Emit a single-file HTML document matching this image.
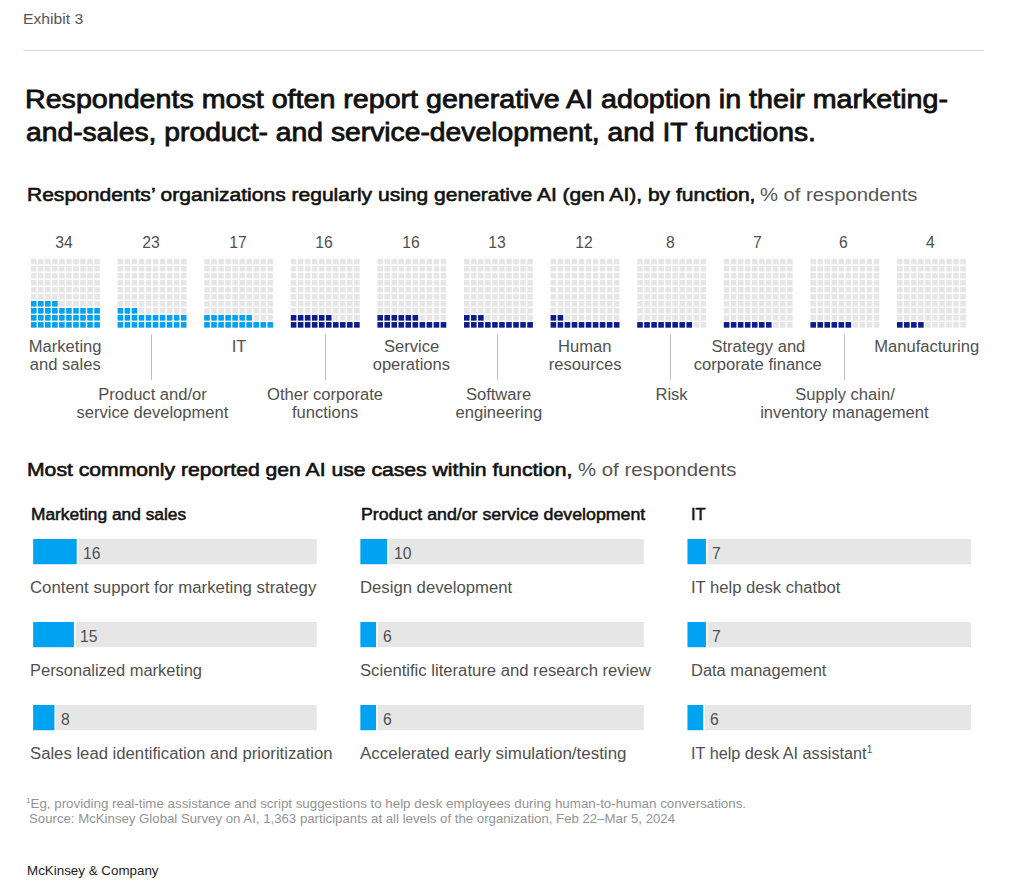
<!DOCTYPE html>
<html><head><meta charset="utf-8"><title>Exhibit 3</title>
<style>
html,body{margin:0;padding:0;background:#fff;width:1024px;height:896px;overflow:hidden;position:relative;font-family:'Liberation Sans', sans-serif;}
.sup{font-size:10px;position:relative;top:-6px;vertical-align:baseline;line-height:0}
</style></head><body>
<svg width="1024" height="896" style="position:absolute;left:0;top:0">
<line x1="23.5" y1="50.5" x2="984" y2="50.5" stroke="#d4d4d4" stroke-width="1.2"/>
<rect x="31.00" y="322.07" width="5.6" height="5.6" fill="#00a1f1"/>
<rect x="38.03" y="322.07" width="5.6" height="5.6" fill="#00a1f1"/>
<rect x="45.06" y="322.07" width="5.6" height="5.6" fill="#00a1f1"/>
<rect x="52.09" y="322.07" width="5.6" height="5.6" fill="#00a1f1"/>
<rect x="59.12" y="322.07" width="5.6" height="5.6" fill="#00a1f1"/>
<rect x="66.15" y="322.07" width="5.6" height="5.6" fill="#00a1f1"/>
<rect x="73.18" y="322.07" width="5.6" height="5.6" fill="#00a1f1"/>
<rect x="80.21" y="322.07" width="5.6" height="5.6" fill="#00a1f1"/>
<rect x="87.24" y="322.07" width="5.6" height="5.6" fill="#00a1f1"/>
<rect x="94.27" y="322.07" width="5.6" height="5.6" fill="#00a1f1"/>
<rect x="31.00" y="315.04" width="5.6" height="5.6" fill="#00a1f1"/>
<rect x="38.03" y="315.04" width="5.6" height="5.6" fill="#00a1f1"/>
<rect x="45.06" y="315.04" width="5.6" height="5.6" fill="#00a1f1"/>
<rect x="52.09" y="315.04" width="5.6" height="5.6" fill="#00a1f1"/>
<rect x="59.12" y="315.04" width="5.6" height="5.6" fill="#00a1f1"/>
<rect x="66.15" y="315.04" width="5.6" height="5.6" fill="#00a1f1"/>
<rect x="73.18" y="315.04" width="5.6" height="5.6" fill="#00a1f1"/>
<rect x="80.21" y="315.04" width="5.6" height="5.6" fill="#00a1f1"/>
<rect x="87.24" y="315.04" width="5.6" height="5.6" fill="#00a1f1"/>
<rect x="94.27" y="315.04" width="5.6" height="5.6" fill="#00a1f1"/>
<rect x="31.00" y="308.01" width="5.6" height="5.6" fill="#00a1f1"/>
<rect x="38.03" y="308.01" width="5.6" height="5.6" fill="#00a1f1"/>
<rect x="45.06" y="308.01" width="5.6" height="5.6" fill="#00a1f1"/>
<rect x="52.09" y="308.01" width="5.6" height="5.6" fill="#00a1f1"/>
<rect x="59.12" y="308.01" width="5.6" height="5.6" fill="#00a1f1"/>
<rect x="66.15" y="308.01" width="5.6" height="5.6" fill="#00a1f1"/>
<rect x="73.18" y="308.01" width="5.6" height="5.6" fill="#00a1f1"/>
<rect x="80.21" y="308.01" width="5.6" height="5.6" fill="#00a1f1"/>
<rect x="87.24" y="308.01" width="5.6" height="5.6" fill="#00a1f1"/>
<rect x="94.27" y="308.01" width="5.6" height="5.6" fill="#00a1f1"/>
<rect x="31.00" y="300.98" width="5.6" height="5.6" fill="#00a1f1"/>
<rect x="38.03" y="300.98" width="5.6" height="5.6" fill="#00a1f1"/>
<rect x="45.06" y="300.98" width="5.6" height="5.6" fill="#00a1f1"/>
<rect x="52.09" y="300.98" width="5.6" height="5.6" fill="#00a1f1"/>
<rect x="59.12" y="300.98" width="5.6" height="5.6" fill="#e6e6e6"/>
<rect x="66.15" y="300.98" width="5.6" height="5.6" fill="#e6e6e6"/>
<rect x="73.18" y="300.98" width="5.6" height="5.6" fill="#e6e6e6"/>
<rect x="80.21" y="300.98" width="5.6" height="5.6" fill="#e6e6e6"/>
<rect x="87.24" y="300.98" width="5.6" height="5.6" fill="#e6e6e6"/>
<rect x="94.27" y="300.98" width="5.6" height="5.6" fill="#e6e6e6"/>
<rect x="31.00" y="293.95" width="5.6" height="5.6" fill="#e6e6e6"/>
<rect x="38.03" y="293.95" width="5.6" height="5.6" fill="#e6e6e6"/>
<rect x="45.06" y="293.95" width="5.6" height="5.6" fill="#e6e6e6"/>
<rect x="52.09" y="293.95" width="5.6" height="5.6" fill="#e6e6e6"/>
<rect x="59.12" y="293.95" width="5.6" height="5.6" fill="#e6e6e6"/>
<rect x="66.15" y="293.95" width="5.6" height="5.6" fill="#e6e6e6"/>
<rect x="73.18" y="293.95" width="5.6" height="5.6" fill="#e6e6e6"/>
<rect x="80.21" y="293.95" width="5.6" height="5.6" fill="#e6e6e6"/>
<rect x="87.24" y="293.95" width="5.6" height="5.6" fill="#e6e6e6"/>
<rect x="94.27" y="293.95" width="5.6" height="5.6" fill="#e6e6e6"/>
<rect x="31.00" y="286.92" width="5.6" height="5.6" fill="#e6e6e6"/>
<rect x="38.03" y="286.92" width="5.6" height="5.6" fill="#e6e6e6"/>
<rect x="45.06" y="286.92" width="5.6" height="5.6" fill="#e6e6e6"/>
<rect x="52.09" y="286.92" width="5.6" height="5.6" fill="#e6e6e6"/>
<rect x="59.12" y="286.92" width="5.6" height="5.6" fill="#e6e6e6"/>
<rect x="66.15" y="286.92" width="5.6" height="5.6" fill="#e6e6e6"/>
<rect x="73.18" y="286.92" width="5.6" height="5.6" fill="#e6e6e6"/>
<rect x="80.21" y="286.92" width="5.6" height="5.6" fill="#e6e6e6"/>
<rect x="87.24" y="286.92" width="5.6" height="5.6" fill="#e6e6e6"/>
<rect x="94.27" y="286.92" width="5.6" height="5.6" fill="#e6e6e6"/>
<rect x="31.00" y="279.89" width="5.6" height="5.6" fill="#e6e6e6"/>
<rect x="38.03" y="279.89" width="5.6" height="5.6" fill="#e6e6e6"/>
<rect x="45.06" y="279.89" width="5.6" height="5.6" fill="#e6e6e6"/>
<rect x="52.09" y="279.89" width="5.6" height="5.6" fill="#e6e6e6"/>
<rect x="59.12" y="279.89" width="5.6" height="5.6" fill="#e6e6e6"/>
<rect x="66.15" y="279.89" width="5.6" height="5.6" fill="#e6e6e6"/>
<rect x="73.18" y="279.89" width="5.6" height="5.6" fill="#e6e6e6"/>
<rect x="80.21" y="279.89" width="5.6" height="5.6" fill="#e6e6e6"/>
<rect x="87.24" y="279.89" width="5.6" height="5.6" fill="#e6e6e6"/>
<rect x="94.27" y="279.89" width="5.6" height="5.6" fill="#e6e6e6"/>
<rect x="31.00" y="272.86" width="5.6" height="5.6" fill="#e6e6e6"/>
<rect x="38.03" y="272.86" width="5.6" height="5.6" fill="#e6e6e6"/>
<rect x="45.06" y="272.86" width="5.6" height="5.6" fill="#e6e6e6"/>
<rect x="52.09" y="272.86" width="5.6" height="5.6" fill="#e6e6e6"/>
<rect x="59.12" y="272.86" width="5.6" height="5.6" fill="#e6e6e6"/>
<rect x="66.15" y="272.86" width="5.6" height="5.6" fill="#e6e6e6"/>
<rect x="73.18" y="272.86" width="5.6" height="5.6" fill="#e6e6e6"/>
<rect x="80.21" y="272.86" width="5.6" height="5.6" fill="#e6e6e6"/>
<rect x="87.24" y="272.86" width="5.6" height="5.6" fill="#e6e6e6"/>
<rect x="94.27" y="272.86" width="5.6" height="5.6" fill="#e6e6e6"/>
<rect x="31.00" y="265.83" width="5.6" height="5.6" fill="#e6e6e6"/>
<rect x="38.03" y="265.83" width="5.6" height="5.6" fill="#e6e6e6"/>
<rect x="45.06" y="265.83" width="5.6" height="5.6" fill="#e6e6e6"/>
<rect x="52.09" y="265.83" width="5.6" height="5.6" fill="#e6e6e6"/>
<rect x="59.12" y="265.83" width="5.6" height="5.6" fill="#e6e6e6"/>
<rect x="66.15" y="265.83" width="5.6" height="5.6" fill="#e6e6e6"/>
<rect x="73.18" y="265.83" width="5.6" height="5.6" fill="#e6e6e6"/>
<rect x="80.21" y="265.83" width="5.6" height="5.6" fill="#e6e6e6"/>
<rect x="87.24" y="265.83" width="5.6" height="5.6" fill="#e6e6e6"/>
<rect x="94.27" y="265.83" width="5.6" height="5.6" fill="#e6e6e6"/>
<rect x="31.00" y="258.80" width="5.6" height="5.6" fill="#e6e6e6"/>
<rect x="38.03" y="258.80" width="5.6" height="5.6" fill="#e6e6e6"/>
<rect x="45.06" y="258.80" width="5.6" height="5.6" fill="#e6e6e6"/>
<rect x="52.09" y="258.80" width="5.6" height="5.6" fill="#e6e6e6"/>
<rect x="59.12" y="258.80" width="5.6" height="5.6" fill="#e6e6e6"/>
<rect x="66.15" y="258.80" width="5.6" height="5.6" fill="#e6e6e6"/>
<rect x="73.18" y="258.80" width="5.6" height="5.6" fill="#e6e6e6"/>
<rect x="80.21" y="258.80" width="5.6" height="5.6" fill="#e6e6e6"/>
<rect x="87.24" y="258.80" width="5.6" height="5.6" fill="#e6e6e6"/>
<rect x="94.27" y="258.80" width="5.6" height="5.6" fill="#e6e6e6"/>
<rect x="117.60" y="322.07" width="5.6" height="5.6" fill="#00a1f1"/>
<rect x="124.63" y="322.07" width="5.6" height="5.6" fill="#00a1f1"/>
<rect x="131.66" y="322.07" width="5.6" height="5.6" fill="#00a1f1"/>
<rect x="138.69" y="322.07" width="5.6" height="5.6" fill="#00a1f1"/>
<rect x="145.72" y="322.07" width="5.6" height="5.6" fill="#00a1f1"/>
<rect x="152.75" y="322.07" width="5.6" height="5.6" fill="#00a1f1"/>
<rect x="159.78" y="322.07" width="5.6" height="5.6" fill="#00a1f1"/>
<rect x="166.81" y="322.07" width="5.6" height="5.6" fill="#00a1f1"/>
<rect x="173.84" y="322.07" width="5.6" height="5.6" fill="#00a1f1"/>
<rect x="180.87" y="322.07" width="5.6" height="5.6" fill="#00a1f1"/>
<rect x="117.60" y="315.04" width="5.6" height="5.6" fill="#00a1f1"/>
<rect x="124.63" y="315.04" width="5.6" height="5.6" fill="#00a1f1"/>
<rect x="131.66" y="315.04" width="5.6" height="5.6" fill="#00a1f1"/>
<rect x="138.69" y="315.04" width="5.6" height="5.6" fill="#00a1f1"/>
<rect x="145.72" y="315.04" width="5.6" height="5.6" fill="#00a1f1"/>
<rect x="152.75" y="315.04" width="5.6" height="5.6" fill="#00a1f1"/>
<rect x="159.78" y="315.04" width="5.6" height="5.6" fill="#00a1f1"/>
<rect x="166.81" y="315.04" width="5.6" height="5.6" fill="#00a1f1"/>
<rect x="173.84" y="315.04" width="5.6" height="5.6" fill="#00a1f1"/>
<rect x="180.87" y="315.04" width="5.6" height="5.6" fill="#00a1f1"/>
<rect x="117.60" y="308.01" width="5.6" height="5.6" fill="#00a1f1"/>
<rect x="124.63" y="308.01" width="5.6" height="5.6" fill="#00a1f1"/>
<rect x="131.66" y="308.01" width="5.6" height="5.6" fill="#00a1f1"/>
<rect x="138.69" y="308.01" width="5.6" height="5.6" fill="#e6e6e6"/>
<rect x="145.72" y="308.01" width="5.6" height="5.6" fill="#e6e6e6"/>
<rect x="152.75" y="308.01" width="5.6" height="5.6" fill="#e6e6e6"/>
<rect x="159.78" y="308.01" width="5.6" height="5.6" fill="#e6e6e6"/>
<rect x="166.81" y="308.01" width="5.6" height="5.6" fill="#e6e6e6"/>
<rect x="173.84" y="308.01" width="5.6" height="5.6" fill="#e6e6e6"/>
<rect x="180.87" y="308.01" width="5.6" height="5.6" fill="#e6e6e6"/>
<rect x="117.60" y="300.98" width="5.6" height="5.6" fill="#e6e6e6"/>
<rect x="124.63" y="300.98" width="5.6" height="5.6" fill="#e6e6e6"/>
<rect x="131.66" y="300.98" width="5.6" height="5.6" fill="#e6e6e6"/>
<rect x="138.69" y="300.98" width="5.6" height="5.6" fill="#e6e6e6"/>
<rect x="145.72" y="300.98" width="5.6" height="5.6" fill="#e6e6e6"/>
<rect x="152.75" y="300.98" width="5.6" height="5.6" fill="#e6e6e6"/>
<rect x="159.78" y="300.98" width="5.6" height="5.6" fill="#e6e6e6"/>
<rect x="166.81" y="300.98" width="5.6" height="5.6" fill="#e6e6e6"/>
<rect x="173.84" y="300.98" width="5.6" height="5.6" fill="#e6e6e6"/>
<rect x="180.87" y="300.98" width="5.6" height="5.6" fill="#e6e6e6"/>
<rect x="117.60" y="293.95" width="5.6" height="5.6" fill="#e6e6e6"/>
<rect x="124.63" y="293.95" width="5.6" height="5.6" fill="#e6e6e6"/>
<rect x="131.66" y="293.95" width="5.6" height="5.6" fill="#e6e6e6"/>
<rect x="138.69" y="293.95" width="5.6" height="5.6" fill="#e6e6e6"/>
<rect x="145.72" y="293.95" width="5.6" height="5.6" fill="#e6e6e6"/>
<rect x="152.75" y="293.95" width="5.6" height="5.6" fill="#e6e6e6"/>
<rect x="159.78" y="293.95" width="5.6" height="5.6" fill="#e6e6e6"/>
<rect x="166.81" y="293.95" width="5.6" height="5.6" fill="#e6e6e6"/>
<rect x="173.84" y="293.95" width="5.6" height="5.6" fill="#e6e6e6"/>
<rect x="180.87" y="293.95" width="5.6" height="5.6" fill="#e6e6e6"/>
<rect x="117.60" y="286.92" width="5.6" height="5.6" fill="#e6e6e6"/>
<rect x="124.63" y="286.92" width="5.6" height="5.6" fill="#e6e6e6"/>
<rect x="131.66" y="286.92" width="5.6" height="5.6" fill="#e6e6e6"/>
<rect x="138.69" y="286.92" width="5.6" height="5.6" fill="#e6e6e6"/>
<rect x="145.72" y="286.92" width="5.6" height="5.6" fill="#e6e6e6"/>
<rect x="152.75" y="286.92" width="5.6" height="5.6" fill="#e6e6e6"/>
<rect x="159.78" y="286.92" width="5.6" height="5.6" fill="#e6e6e6"/>
<rect x="166.81" y="286.92" width="5.6" height="5.6" fill="#e6e6e6"/>
<rect x="173.84" y="286.92" width="5.6" height="5.6" fill="#e6e6e6"/>
<rect x="180.87" y="286.92" width="5.6" height="5.6" fill="#e6e6e6"/>
<rect x="117.60" y="279.89" width="5.6" height="5.6" fill="#e6e6e6"/>
<rect x="124.63" y="279.89" width="5.6" height="5.6" fill="#e6e6e6"/>
<rect x="131.66" y="279.89" width="5.6" height="5.6" fill="#e6e6e6"/>
<rect x="138.69" y="279.89" width="5.6" height="5.6" fill="#e6e6e6"/>
<rect x="145.72" y="279.89" width="5.6" height="5.6" fill="#e6e6e6"/>
<rect x="152.75" y="279.89" width="5.6" height="5.6" fill="#e6e6e6"/>
<rect x="159.78" y="279.89" width="5.6" height="5.6" fill="#e6e6e6"/>
<rect x="166.81" y="279.89" width="5.6" height="5.6" fill="#e6e6e6"/>
<rect x="173.84" y="279.89" width="5.6" height="5.6" fill="#e6e6e6"/>
<rect x="180.87" y="279.89" width="5.6" height="5.6" fill="#e6e6e6"/>
<rect x="117.60" y="272.86" width="5.6" height="5.6" fill="#e6e6e6"/>
<rect x="124.63" y="272.86" width="5.6" height="5.6" fill="#e6e6e6"/>
<rect x="131.66" y="272.86" width="5.6" height="5.6" fill="#e6e6e6"/>
<rect x="138.69" y="272.86" width="5.6" height="5.6" fill="#e6e6e6"/>
<rect x="145.72" y="272.86" width="5.6" height="5.6" fill="#e6e6e6"/>
<rect x="152.75" y="272.86" width="5.6" height="5.6" fill="#e6e6e6"/>
<rect x="159.78" y="272.86" width="5.6" height="5.6" fill="#e6e6e6"/>
<rect x="166.81" y="272.86" width="5.6" height="5.6" fill="#e6e6e6"/>
<rect x="173.84" y="272.86" width="5.6" height="5.6" fill="#e6e6e6"/>
<rect x="180.87" y="272.86" width="5.6" height="5.6" fill="#e6e6e6"/>
<rect x="117.60" y="265.83" width="5.6" height="5.6" fill="#e6e6e6"/>
<rect x="124.63" y="265.83" width="5.6" height="5.6" fill="#e6e6e6"/>
<rect x="131.66" y="265.83" width="5.6" height="5.6" fill="#e6e6e6"/>
<rect x="138.69" y="265.83" width="5.6" height="5.6" fill="#e6e6e6"/>
<rect x="145.72" y="265.83" width="5.6" height="5.6" fill="#e6e6e6"/>
<rect x="152.75" y="265.83" width="5.6" height="5.6" fill="#e6e6e6"/>
<rect x="159.78" y="265.83" width="5.6" height="5.6" fill="#e6e6e6"/>
<rect x="166.81" y="265.83" width="5.6" height="5.6" fill="#e6e6e6"/>
<rect x="173.84" y="265.83" width="5.6" height="5.6" fill="#e6e6e6"/>
<rect x="180.87" y="265.83" width="5.6" height="5.6" fill="#e6e6e6"/>
<rect x="117.60" y="258.80" width="5.6" height="5.6" fill="#e6e6e6"/>
<rect x="124.63" y="258.80" width="5.6" height="5.6" fill="#e6e6e6"/>
<rect x="131.66" y="258.80" width="5.6" height="5.6" fill="#e6e6e6"/>
<rect x="138.69" y="258.80" width="5.6" height="5.6" fill="#e6e6e6"/>
<rect x="145.72" y="258.80" width="5.6" height="5.6" fill="#e6e6e6"/>
<rect x="152.75" y="258.80" width="5.6" height="5.6" fill="#e6e6e6"/>
<rect x="159.78" y="258.80" width="5.6" height="5.6" fill="#e6e6e6"/>
<rect x="166.81" y="258.80" width="5.6" height="5.6" fill="#e6e6e6"/>
<rect x="173.84" y="258.80" width="5.6" height="5.6" fill="#e6e6e6"/>
<rect x="180.87" y="258.80" width="5.6" height="5.6" fill="#e6e6e6"/>
<rect x="204.20" y="322.07" width="5.6" height="5.6" fill="#00a1f1"/>
<rect x="211.23" y="322.07" width="5.6" height="5.6" fill="#00a1f1"/>
<rect x="218.26" y="322.07" width="5.6" height="5.6" fill="#00a1f1"/>
<rect x="225.29" y="322.07" width="5.6" height="5.6" fill="#00a1f1"/>
<rect x="232.32" y="322.07" width="5.6" height="5.6" fill="#00a1f1"/>
<rect x="239.35" y="322.07" width="5.6" height="5.6" fill="#00a1f1"/>
<rect x="246.38" y="322.07" width="5.6" height="5.6" fill="#00a1f1"/>
<rect x="253.41" y="322.07" width="5.6" height="5.6" fill="#00a1f1"/>
<rect x="260.44" y="322.07" width="5.6" height="5.6" fill="#00a1f1"/>
<rect x="267.47" y="322.07" width="5.6" height="5.6" fill="#00a1f1"/>
<rect x="204.20" y="315.04" width="5.6" height="5.6" fill="#00a1f1"/>
<rect x="211.23" y="315.04" width="5.6" height="5.6" fill="#00a1f1"/>
<rect x="218.26" y="315.04" width="5.6" height="5.6" fill="#00a1f1"/>
<rect x="225.29" y="315.04" width="5.6" height="5.6" fill="#00a1f1"/>
<rect x="232.32" y="315.04" width="5.6" height="5.6" fill="#00a1f1"/>
<rect x="239.35" y="315.04" width="5.6" height="5.6" fill="#00a1f1"/>
<rect x="246.38" y="315.04" width="5.6" height="5.6" fill="#00a1f1"/>
<rect x="253.41" y="315.04" width="5.6" height="5.6" fill="#e6e6e6"/>
<rect x="260.44" y="315.04" width="5.6" height="5.6" fill="#e6e6e6"/>
<rect x="267.47" y="315.04" width="5.6" height="5.6" fill="#e6e6e6"/>
<rect x="204.20" y="308.01" width="5.6" height="5.6" fill="#e6e6e6"/>
<rect x="211.23" y="308.01" width="5.6" height="5.6" fill="#e6e6e6"/>
<rect x="218.26" y="308.01" width="5.6" height="5.6" fill="#e6e6e6"/>
<rect x="225.29" y="308.01" width="5.6" height="5.6" fill="#e6e6e6"/>
<rect x="232.32" y="308.01" width="5.6" height="5.6" fill="#e6e6e6"/>
<rect x="239.35" y="308.01" width="5.6" height="5.6" fill="#e6e6e6"/>
<rect x="246.38" y="308.01" width="5.6" height="5.6" fill="#e6e6e6"/>
<rect x="253.41" y="308.01" width="5.6" height="5.6" fill="#e6e6e6"/>
<rect x="260.44" y="308.01" width="5.6" height="5.6" fill="#e6e6e6"/>
<rect x="267.47" y="308.01" width="5.6" height="5.6" fill="#e6e6e6"/>
<rect x="204.20" y="300.98" width="5.6" height="5.6" fill="#e6e6e6"/>
<rect x="211.23" y="300.98" width="5.6" height="5.6" fill="#e6e6e6"/>
<rect x="218.26" y="300.98" width="5.6" height="5.6" fill="#e6e6e6"/>
<rect x="225.29" y="300.98" width="5.6" height="5.6" fill="#e6e6e6"/>
<rect x="232.32" y="300.98" width="5.6" height="5.6" fill="#e6e6e6"/>
<rect x="239.35" y="300.98" width="5.6" height="5.6" fill="#e6e6e6"/>
<rect x="246.38" y="300.98" width="5.6" height="5.6" fill="#e6e6e6"/>
<rect x="253.41" y="300.98" width="5.6" height="5.6" fill="#e6e6e6"/>
<rect x="260.44" y="300.98" width="5.6" height="5.6" fill="#e6e6e6"/>
<rect x="267.47" y="300.98" width="5.6" height="5.6" fill="#e6e6e6"/>
<rect x="204.20" y="293.95" width="5.6" height="5.6" fill="#e6e6e6"/>
<rect x="211.23" y="293.95" width="5.6" height="5.6" fill="#e6e6e6"/>
<rect x="218.26" y="293.95" width="5.6" height="5.6" fill="#e6e6e6"/>
<rect x="225.29" y="293.95" width="5.6" height="5.6" fill="#e6e6e6"/>
<rect x="232.32" y="293.95" width="5.6" height="5.6" fill="#e6e6e6"/>
<rect x="239.35" y="293.95" width="5.6" height="5.6" fill="#e6e6e6"/>
<rect x="246.38" y="293.95" width="5.6" height="5.6" fill="#e6e6e6"/>
<rect x="253.41" y="293.95" width="5.6" height="5.6" fill="#e6e6e6"/>
<rect x="260.44" y="293.95" width="5.6" height="5.6" fill="#e6e6e6"/>
<rect x="267.47" y="293.95" width="5.6" height="5.6" fill="#e6e6e6"/>
<rect x="204.20" y="286.92" width="5.6" height="5.6" fill="#e6e6e6"/>
<rect x="211.23" y="286.92" width="5.6" height="5.6" fill="#e6e6e6"/>
<rect x="218.26" y="286.92" width="5.6" height="5.6" fill="#e6e6e6"/>
<rect x="225.29" y="286.92" width="5.6" height="5.6" fill="#e6e6e6"/>
<rect x="232.32" y="286.92" width="5.6" height="5.6" fill="#e6e6e6"/>
<rect x="239.35" y="286.92" width="5.6" height="5.6" fill="#e6e6e6"/>
<rect x="246.38" y="286.92" width="5.6" height="5.6" fill="#e6e6e6"/>
<rect x="253.41" y="286.92" width="5.6" height="5.6" fill="#e6e6e6"/>
<rect x="260.44" y="286.92" width="5.6" height="5.6" fill="#e6e6e6"/>
<rect x="267.47" y="286.92" width="5.6" height="5.6" fill="#e6e6e6"/>
<rect x="204.20" y="279.89" width="5.6" height="5.6" fill="#e6e6e6"/>
<rect x="211.23" y="279.89" width="5.6" height="5.6" fill="#e6e6e6"/>
<rect x="218.26" y="279.89" width="5.6" height="5.6" fill="#e6e6e6"/>
<rect x="225.29" y="279.89" width="5.6" height="5.6" fill="#e6e6e6"/>
<rect x="232.32" y="279.89" width="5.6" height="5.6" fill="#e6e6e6"/>
<rect x="239.35" y="279.89" width="5.6" height="5.6" fill="#e6e6e6"/>
<rect x="246.38" y="279.89" width="5.6" height="5.6" fill="#e6e6e6"/>
<rect x="253.41" y="279.89" width="5.6" height="5.6" fill="#e6e6e6"/>
<rect x="260.44" y="279.89" width="5.6" height="5.6" fill="#e6e6e6"/>
<rect x="267.47" y="279.89" width="5.6" height="5.6" fill="#e6e6e6"/>
<rect x="204.20" y="272.86" width="5.6" height="5.6" fill="#e6e6e6"/>
<rect x="211.23" y="272.86" width="5.6" height="5.6" fill="#e6e6e6"/>
<rect x="218.26" y="272.86" width="5.6" height="5.6" fill="#e6e6e6"/>
<rect x="225.29" y="272.86" width="5.6" height="5.6" fill="#e6e6e6"/>
<rect x="232.32" y="272.86" width="5.6" height="5.6" fill="#e6e6e6"/>
<rect x="239.35" y="272.86" width="5.6" height="5.6" fill="#e6e6e6"/>
<rect x="246.38" y="272.86" width="5.6" height="5.6" fill="#e6e6e6"/>
<rect x="253.41" y="272.86" width="5.6" height="5.6" fill="#e6e6e6"/>
<rect x="260.44" y="272.86" width="5.6" height="5.6" fill="#e6e6e6"/>
<rect x="267.47" y="272.86" width="5.6" height="5.6" fill="#e6e6e6"/>
<rect x="204.20" y="265.83" width="5.6" height="5.6" fill="#e6e6e6"/>
<rect x="211.23" y="265.83" width="5.6" height="5.6" fill="#e6e6e6"/>
<rect x="218.26" y="265.83" width="5.6" height="5.6" fill="#e6e6e6"/>
<rect x="225.29" y="265.83" width="5.6" height="5.6" fill="#e6e6e6"/>
<rect x="232.32" y="265.83" width="5.6" height="5.6" fill="#e6e6e6"/>
<rect x="239.35" y="265.83" width="5.6" height="5.6" fill="#e6e6e6"/>
<rect x="246.38" y="265.83" width="5.6" height="5.6" fill="#e6e6e6"/>
<rect x="253.41" y="265.83" width="5.6" height="5.6" fill="#e6e6e6"/>
<rect x="260.44" y="265.83" width="5.6" height="5.6" fill="#e6e6e6"/>
<rect x="267.47" y="265.83" width="5.6" height="5.6" fill="#e6e6e6"/>
<rect x="204.20" y="258.80" width="5.6" height="5.6" fill="#e6e6e6"/>
<rect x="211.23" y="258.80" width="5.6" height="5.6" fill="#e6e6e6"/>
<rect x="218.26" y="258.80" width="5.6" height="5.6" fill="#e6e6e6"/>
<rect x="225.29" y="258.80" width="5.6" height="5.6" fill="#e6e6e6"/>
<rect x="232.32" y="258.80" width="5.6" height="5.6" fill="#e6e6e6"/>
<rect x="239.35" y="258.80" width="5.6" height="5.6" fill="#e6e6e6"/>
<rect x="246.38" y="258.80" width="5.6" height="5.6" fill="#e6e6e6"/>
<rect x="253.41" y="258.80" width="5.6" height="5.6" fill="#e6e6e6"/>
<rect x="260.44" y="258.80" width="5.6" height="5.6" fill="#e6e6e6"/>
<rect x="267.47" y="258.80" width="5.6" height="5.6" fill="#e6e6e6"/>
<rect x="290.80" y="322.07" width="5.6" height="5.6" fill="#0c1b8a"/>
<rect x="297.83" y="322.07" width="5.6" height="5.6" fill="#0c1b8a"/>
<rect x="304.86" y="322.07" width="5.6" height="5.6" fill="#0c1b8a"/>
<rect x="311.89" y="322.07" width="5.6" height="5.6" fill="#0c1b8a"/>
<rect x="318.92" y="322.07" width="5.6" height="5.6" fill="#0c1b8a"/>
<rect x="325.95" y="322.07" width="5.6" height="5.6" fill="#0c1b8a"/>
<rect x="332.98" y="322.07" width="5.6" height="5.6" fill="#0c1b8a"/>
<rect x="340.01" y="322.07" width="5.6" height="5.6" fill="#0c1b8a"/>
<rect x="347.04" y="322.07" width="5.6" height="5.6" fill="#0c1b8a"/>
<rect x="354.07" y="322.07" width="5.6" height="5.6" fill="#0c1b8a"/>
<rect x="290.80" y="315.04" width="5.6" height="5.6" fill="#0c1b8a"/>
<rect x="297.83" y="315.04" width="5.6" height="5.6" fill="#0c1b8a"/>
<rect x="304.86" y="315.04" width="5.6" height="5.6" fill="#0c1b8a"/>
<rect x="311.89" y="315.04" width="5.6" height="5.6" fill="#0c1b8a"/>
<rect x="318.92" y="315.04" width="5.6" height="5.6" fill="#0c1b8a"/>
<rect x="325.95" y="315.04" width="5.6" height="5.6" fill="#0c1b8a"/>
<rect x="332.98" y="315.04" width="5.6" height="5.6" fill="#e6e6e6"/>
<rect x="340.01" y="315.04" width="5.6" height="5.6" fill="#e6e6e6"/>
<rect x="347.04" y="315.04" width="5.6" height="5.6" fill="#e6e6e6"/>
<rect x="354.07" y="315.04" width="5.6" height="5.6" fill="#e6e6e6"/>
<rect x="290.80" y="308.01" width="5.6" height="5.6" fill="#e6e6e6"/>
<rect x="297.83" y="308.01" width="5.6" height="5.6" fill="#e6e6e6"/>
<rect x="304.86" y="308.01" width="5.6" height="5.6" fill="#e6e6e6"/>
<rect x="311.89" y="308.01" width="5.6" height="5.6" fill="#e6e6e6"/>
<rect x="318.92" y="308.01" width="5.6" height="5.6" fill="#e6e6e6"/>
<rect x="325.95" y="308.01" width="5.6" height="5.6" fill="#e6e6e6"/>
<rect x="332.98" y="308.01" width="5.6" height="5.6" fill="#e6e6e6"/>
<rect x="340.01" y="308.01" width="5.6" height="5.6" fill="#e6e6e6"/>
<rect x="347.04" y="308.01" width="5.6" height="5.6" fill="#e6e6e6"/>
<rect x="354.07" y="308.01" width="5.6" height="5.6" fill="#e6e6e6"/>
<rect x="290.80" y="300.98" width="5.6" height="5.6" fill="#e6e6e6"/>
<rect x="297.83" y="300.98" width="5.6" height="5.6" fill="#e6e6e6"/>
<rect x="304.86" y="300.98" width="5.6" height="5.6" fill="#e6e6e6"/>
<rect x="311.89" y="300.98" width="5.6" height="5.6" fill="#e6e6e6"/>
<rect x="318.92" y="300.98" width="5.6" height="5.6" fill="#e6e6e6"/>
<rect x="325.95" y="300.98" width="5.6" height="5.6" fill="#e6e6e6"/>
<rect x="332.98" y="300.98" width="5.6" height="5.6" fill="#e6e6e6"/>
<rect x="340.01" y="300.98" width="5.6" height="5.6" fill="#e6e6e6"/>
<rect x="347.04" y="300.98" width="5.6" height="5.6" fill="#e6e6e6"/>
<rect x="354.07" y="300.98" width="5.6" height="5.6" fill="#e6e6e6"/>
<rect x="290.80" y="293.95" width="5.6" height="5.6" fill="#e6e6e6"/>
<rect x="297.83" y="293.95" width="5.6" height="5.6" fill="#e6e6e6"/>
<rect x="304.86" y="293.95" width="5.6" height="5.6" fill="#e6e6e6"/>
<rect x="311.89" y="293.95" width="5.6" height="5.6" fill="#e6e6e6"/>
<rect x="318.92" y="293.95" width="5.6" height="5.6" fill="#e6e6e6"/>
<rect x="325.95" y="293.95" width="5.6" height="5.6" fill="#e6e6e6"/>
<rect x="332.98" y="293.95" width="5.6" height="5.6" fill="#e6e6e6"/>
<rect x="340.01" y="293.95" width="5.6" height="5.6" fill="#e6e6e6"/>
<rect x="347.04" y="293.95" width="5.6" height="5.6" fill="#e6e6e6"/>
<rect x="354.07" y="293.95" width="5.6" height="5.6" fill="#e6e6e6"/>
<rect x="290.80" y="286.92" width="5.6" height="5.6" fill="#e6e6e6"/>
<rect x="297.83" y="286.92" width="5.6" height="5.6" fill="#e6e6e6"/>
<rect x="304.86" y="286.92" width="5.6" height="5.6" fill="#e6e6e6"/>
<rect x="311.89" y="286.92" width="5.6" height="5.6" fill="#e6e6e6"/>
<rect x="318.92" y="286.92" width="5.6" height="5.6" fill="#e6e6e6"/>
<rect x="325.95" y="286.92" width="5.6" height="5.6" fill="#e6e6e6"/>
<rect x="332.98" y="286.92" width="5.6" height="5.6" fill="#e6e6e6"/>
<rect x="340.01" y="286.92" width="5.6" height="5.6" fill="#e6e6e6"/>
<rect x="347.04" y="286.92" width="5.6" height="5.6" fill="#e6e6e6"/>
<rect x="354.07" y="286.92" width="5.6" height="5.6" fill="#e6e6e6"/>
<rect x="290.80" y="279.89" width="5.6" height="5.6" fill="#e6e6e6"/>
<rect x="297.83" y="279.89" width="5.6" height="5.6" fill="#e6e6e6"/>
<rect x="304.86" y="279.89" width="5.6" height="5.6" fill="#e6e6e6"/>
<rect x="311.89" y="279.89" width="5.6" height="5.6" fill="#e6e6e6"/>
<rect x="318.92" y="279.89" width="5.6" height="5.6" fill="#e6e6e6"/>
<rect x="325.95" y="279.89" width="5.6" height="5.6" fill="#e6e6e6"/>
<rect x="332.98" y="279.89" width="5.6" height="5.6" fill="#e6e6e6"/>
<rect x="340.01" y="279.89" width="5.6" height="5.6" fill="#e6e6e6"/>
<rect x="347.04" y="279.89" width="5.6" height="5.6" fill="#e6e6e6"/>
<rect x="354.07" y="279.89" width="5.6" height="5.6" fill="#e6e6e6"/>
<rect x="290.80" y="272.86" width="5.6" height="5.6" fill="#e6e6e6"/>
<rect x="297.83" y="272.86" width="5.6" height="5.6" fill="#e6e6e6"/>
<rect x="304.86" y="272.86" width="5.6" height="5.6" fill="#e6e6e6"/>
<rect x="311.89" y="272.86" width="5.6" height="5.6" fill="#e6e6e6"/>
<rect x="318.92" y="272.86" width="5.6" height="5.6" fill="#e6e6e6"/>
<rect x="325.95" y="272.86" width="5.6" height="5.6" fill="#e6e6e6"/>
<rect x="332.98" y="272.86" width="5.6" height="5.6" fill="#e6e6e6"/>
<rect x="340.01" y="272.86" width="5.6" height="5.6" fill="#e6e6e6"/>
<rect x="347.04" y="272.86" width="5.6" height="5.6" fill="#e6e6e6"/>
<rect x="354.07" y="272.86" width="5.6" height="5.6" fill="#e6e6e6"/>
<rect x="290.80" y="265.83" width="5.6" height="5.6" fill="#e6e6e6"/>
<rect x="297.83" y="265.83" width="5.6" height="5.6" fill="#e6e6e6"/>
<rect x="304.86" y="265.83" width="5.6" height="5.6" fill="#e6e6e6"/>
<rect x="311.89" y="265.83" width="5.6" height="5.6" fill="#e6e6e6"/>
<rect x="318.92" y="265.83" width="5.6" height="5.6" fill="#e6e6e6"/>
<rect x="325.95" y="265.83" width="5.6" height="5.6" fill="#e6e6e6"/>
<rect x="332.98" y="265.83" width="5.6" height="5.6" fill="#e6e6e6"/>
<rect x="340.01" y="265.83" width="5.6" height="5.6" fill="#e6e6e6"/>
<rect x="347.04" y="265.83" width="5.6" height="5.6" fill="#e6e6e6"/>
<rect x="354.07" y="265.83" width="5.6" height="5.6" fill="#e6e6e6"/>
<rect x="290.80" y="258.80" width="5.6" height="5.6" fill="#e6e6e6"/>
<rect x="297.83" y="258.80" width="5.6" height="5.6" fill="#e6e6e6"/>
<rect x="304.86" y="258.80" width="5.6" height="5.6" fill="#e6e6e6"/>
<rect x="311.89" y="258.80" width="5.6" height="5.6" fill="#e6e6e6"/>
<rect x="318.92" y="258.80" width="5.6" height="5.6" fill="#e6e6e6"/>
<rect x="325.95" y="258.80" width="5.6" height="5.6" fill="#e6e6e6"/>
<rect x="332.98" y="258.80" width="5.6" height="5.6" fill="#e6e6e6"/>
<rect x="340.01" y="258.80" width="5.6" height="5.6" fill="#e6e6e6"/>
<rect x="347.04" y="258.80" width="5.6" height="5.6" fill="#e6e6e6"/>
<rect x="354.07" y="258.80" width="5.6" height="5.6" fill="#e6e6e6"/>
<rect x="377.40" y="322.07" width="5.6" height="5.6" fill="#0c1b8a"/>
<rect x="384.43" y="322.07" width="5.6" height="5.6" fill="#0c1b8a"/>
<rect x="391.46" y="322.07" width="5.6" height="5.6" fill="#0c1b8a"/>
<rect x="398.49" y="322.07" width="5.6" height="5.6" fill="#0c1b8a"/>
<rect x="405.52" y="322.07" width="5.6" height="5.6" fill="#0c1b8a"/>
<rect x="412.55" y="322.07" width="5.6" height="5.6" fill="#0c1b8a"/>
<rect x="419.58" y="322.07" width="5.6" height="5.6" fill="#0c1b8a"/>
<rect x="426.61" y="322.07" width="5.6" height="5.6" fill="#0c1b8a"/>
<rect x="433.64" y="322.07" width="5.6" height="5.6" fill="#0c1b8a"/>
<rect x="440.67" y="322.07" width="5.6" height="5.6" fill="#0c1b8a"/>
<rect x="377.40" y="315.04" width="5.6" height="5.6" fill="#0c1b8a"/>
<rect x="384.43" y="315.04" width="5.6" height="5.6" fill="#0c1b8a"/>
<rect x="391.46" y="315.04" width="5.6" height="5.6" fill="#0c1b8a"/>
<rect x="398.49" y="315.04" width="5.6" height="5.6" fill="#0c1b8a"/>
<rect x="405.52" y="315.04" width="5.6" height="5.6" fill="#0c1b8a"/>
<rect x="412.55" y="315.04" width="5.6" height="5.6" fill="#0c1b8a"/>
<rect x="419.58" y="315.04" width="5.6" height="5.6" fill="#e6e6e6"/>
<rect x="426.61" y="315.04" width="5.6" height="5.6" fill="#e6e6e6"/>
<rect x="433.64" y="315.04" width="5.6" height="5.6" fill="#e6e6e6"/>
<rect x="440.67" y="315.04" width="5.6" height="5.6" fill="#e6e6e6"/>
<rect x="377.40" y="308.01" width="5.6" height="5.6" fill="#e6e6e6"/>
<rect x="384.43" y="308.01" width="5.6" height="5.6" fill="#e6e6e6"/>
<rect x="391.46" y="308.01" width="5.6" height="5.6" fill="#e6e6e6"/>
<rect x="398.49" y="308.01" width="5.6" height="5.6" fill="#e6e6e6"/>
<rect x="405.52" y="308.01" width="5.6" height="5.6" fill="#e6e6e6"/>
<rect x="412.55" y="308.01" width="5.6" height="5.6" fill="#e6e6e6"/>
<rect x="419.58" y="308.01" width="5.6" height="5.6" fill="#e6e6e6"/>
<rect x="426.61" y="308.01" width="5.6" height="5.6" fill="#e6e6e6"/>
<rect x="433.64" y="308.01" width="5.6" height="5.6" fill="#e6e6e6"/>
<rect x="440.67" y="308.01" width="5.6" height="5.6" fill="#e6e6e6"/>
<rect x="377.40" y="300.98" width="5.6" height="5.6" fill="#e6e6e6"/>
<rect x="384.43" y="300.98" width="5.6" height="5.6" fill="#e6e6e6"/>
<rect x="391.46" y="300.98" width="5.6" height="5.6" fill="#e6e6e6"/>
<rect x="398.49" y="300.98" width="5.6" height="5.6" fill="#e6e6e6"/>
<rect x="405.52" y="300.98" width="5.6" height="5.6" fill="#e6e6e6"/>
<rect x="412.55" y="300.98" width="5.6" height="5.6" fill="#e6e6e6"/>
<rect x="419.58" y="300.98" width="5.6" height="5.6" fill="#e6e6e6"/>
<rect x="426.61" y="300.98" width="5.6" height="5.6" fill="#e6e6e6"/>
<rect x="433.64" y="300.98" width="5.6" height="5.6" fill="#e6e6e6"/>
<rect x="440.67" y="300.98" width="5.6" height="5.6" fill="#e6e6e6"/>
<rect x="377.40" y="293.95" width="5.6" height="5.6" fill="#e6e6e6"/>
<rect x="384.43" y="293.95" width="5.6" height="5.6" fill="#e6e6e6"/>
<rect x="391.46" y="293.95" width="5.6" height="5.6" fill="#e6e6e6"/>
<rect x="398.49" y="293.95" width="5.6" height="5.6" fill="#e6e6e6"/>
<rect x="405.52" y="293.95" width="5.6" height="5.6" fill="#e6e6e6"/>
<rect x="412.55" y="293.95" width="5.6" height="5.6" fill="#e6e6e6"/>
<rect x="419.58" y="293.95" width="5.6" height="5.6" fill="#e6e6e6"/>
<rect x="426.61" y="293.95" width="5.6" height="5.6" fill="#e6e6e6"/>
<rect x="433.64" y="293.95" width="5.6" height="5.6" fill="#e6e6e6"/>
<rect x="440.67" y="293.95" width="5.6" height="5.6" fill="#e6e6e6"/>
<rect x="377.40" y="286.92" width="5.6" height="5.6" fill="#e6e6e6"/>
<rect x="384.43" y="286.92" width="5.6" height="5.6" fill="#e6e6e6"/>
<rect x="391.46" y="286.92" width="5.6" height="5.6" fill="#e6e6e6"/>
<rect x="398.49" y="286.92" width="5.6" height="5.6" fill="#e6e6e6"/>
<rect x="405.52" y="286.92" width="5.6" height="5.6" fill="#e6e6e6"/>
<rect x="412.55" y="286.92" width="5.6" height="5.6" fill="#e6e6e6"/>
<rect x="419.58" y="286.92" width="5.6" height="5.6" fill="#e6e6e6"/>
<rect x="426.61" y="286.92" width="5.6" height="5.6" fill="#e6e6e6"/>
<rect x="433.64" y="286.92" width="5.6" height="5.6" fill="#e6e6e6"/>
<rect x="440.67" y="286.92" width="5.6" height="5.6" fill="#e6e6e6"/>
<rect x="377.40" y="279.89" width="5.6" height="5.6" fill="#e6e6e6"/>
<rect x="384.43" y="279.89" width="5.6" height="5.6" fill="#e6e6e6"/>
<rect x="391.46" y="279.89" width="5.6" height="5.6" fill="#e6e6e6"/>
<rect x="398.49" y="279.89" width="5.6" height="5.6" fill="#e6e6e6"/>
<rect x="405.52" y="279.89" width="5.6" height="5.6" fill="#e6e6e6"/>
<rect x="412.55" y="279.89" width="5.6" height="5.6" fill="#e6e6e6"/>
<rect x="419.58" y="279.89" width="5.6" height="5.6" fill="#e6e6e6"/>
<rect x="426.61" y="279.89" width="5.6" height="5.6" fill="#e6e6e6"/>
<rect x="433.64" y="279.89" width="5.6" height="5.6" fill="#e6e6e6"/>
<rect x="440.67" y="279.89" width="5.6" height="5.6" fill="#e6e6e6"/>
<rect x="377.40" y="272.86" width="5.6" height="5.6" fill="#e6e6e6"/>
<rect x="384.43" y="272.86" width="5.6" height="5.6" fill="#e6e6e6"/>
<rect x="391.46" y="272.86" width="5.6" height="5.6" fill="#e6e6e6"/>
<rect x="398.49" y="272.86" width="5.6" height="5.6" fill="#e6e6e6"/>
<rect x="405.52" y="272.86" width="5.6" height="5.6" fill="#e6e6e6"/>
<rect x="412.55" y="272.86" width="5.6" height="5.6" fill="#e6e6e6"/>
<rect x="419.58" y="272.86" width="5.6" height="5.6" fill="#e6e6e6"/>
<rect x="426.61" y="272.86" width="5.6" height="5.6" fill="#e6e6e6"/>
<rect x="433.64" y="272.86" width="5.6" height="5.6" fill="#e6e6e6"/>
<rect x="440.67" y="272.86" width="5.6" height="5.6" fill="#e6e6e6"/>
<rect x="377.40" y="265.83" width="5.6" height="5.6" fill="#e6e6e6"/>
<rect x="384.43" y="265.83" width="5.6" height="5.6" fill="#e6e6e6"/>
<rect x="391.46" y="265.83" width="5.6" height="5.6" fill="#e6e6e6"/>
<rect x="398.49" y="265.83" width="5.6" height="5.6" fill="#e6e6e6"/>
<rect x="405.52" y="265.83" width="5.6" height="5.6" fill="#e6e6e6"/>
<rect x="412.55" y="265.83" width="5.6" height="5.6" fill="#e6e6e6"/>
<rect x="419.58" y="265.83" width="5.6" height="5.6" fill="#e6e6e6"/>
<rect x="426.61" y="265.83" width="5.6" height="5.6" fill="#e6e6e6"/>
<rect x="433.64" y="265.83" width="5.6" height="5.6" fill="#e6e6e6"/>
<rect x="440.67" y="265.83" width="5.6" height="5.6" fill="#e6e6e6"/>
<rect x="377.40" y="258.80" width="5.6" height="5.6" fill="#e6e6e6"/>
<rect x="384.43" y="258.80" width="5.6" height="5.6" fill="#e6e6e6"/>
<rect x="391.46" y="258.80" width="5.6" height="5.6" fill="#e6e6e6"/>
<rect x="398.49" y="258.80" width="5.6" height="5.6" fill="#e6e6e6"/>
<rect x="405.52" y="258.80" width="5.6" height="5.6" fill="#e6e6e6"/>
<rect x="412.55" y="258.80" width="5.6" height="5.6" fill="#e6e6e6"/>
<rect x="419.58" y="258.80" width="5.6" height="5.6" fill="#e6e6e6"/>
<rect x="426.61" y="258.80" width="5.6" height="5.6" fill="#e6e6e6"/>
<rect x="433.64" y="258.80" width="5.6" height="5.6" fill="#e6e6e6"/>
<rect x="440.67" y="258.80" width="5.6" height="5.6" fill="#e6e6e6"/>
<rect x="464.00" y="322.07" width="5.6" height="5.6" fill="#0c1b8a"/>
<rect x="471.03" y="322.07" width="5.6" height="5.6" fill="#0c1b8a"/>
<rect x="478.06" y="322.07" width="5.6" height="5.6" fill="#0c1b8a"/>
<rect x="485.09" y="322.07" width="5.6" height="5.6" fill="#0c1b8a"/>
<rect x="492.12" y="322.07" width="5.6" height="5.6" fill="#0c1b8a"/>
<rect x="499.15" y="322.07" width="5.6" height="5.6" fill="#0c1b8a"/>
<rect x="506.18" y="322.07" width="5.6" height="5.6" fill="#0c1b8a"/>
<rect x="513.21" y="322.07" width="5.6" height="5.6" fill="#0c1b8a"/>
<rect x="520.24" y="322.07" width="5.6" height="5.6" fill="#0c1b8a"/>
<rect x="527.27" y="322.07" width="5.6" height="5.6" fill="#0c1b8a"/>
<rect x="464.00" y="315.04" width="5.6" height="5.6" fill="#0c1b8a"/>
<rect x="471.03" y="315.04" width="5.6" height="5.6" fill="#0c1b8a"/>
<rect x="478.06" y="315.04" width="5.6" height="5.6" fill="#0c1b8a"/>
<rect x="485.09" y="315.04" width="5.6" height="5.6" fill="#e6e6e6"/>
<rect x="492.12" y="315.04" width="5.6" height="5.6" fill="#e6e6e6"/>
<rect x="499.15" y="315.04" width="5.6" height="5.6" fill="#e6e6e6"/>
<rect x="506.18" y="315.04" width="5.6" height="5.6" fill="#e6e6e6"/>
<rect x="513.21" y="315.04" width="5.6" height="5.6" fill="#e6e6e6"/>
<rect x="520.24" y="315.04" width="5.6" height="5.6" fill="#e6e6e6"/>
<rect x="527.27" y="315.04" width="5.6" height="5.6" fill="#e6e6e6"/>
<rect x="464.00" y="308.01" width="5.6" height="5.6" fill="#e6e6e6"/>
<rect x="471.03" y="308.01" width="5.6" height="5.6" fill="#e6e6e6"/>
<rect x="478.06" y="308.01" width="5.6" height="5.6" fill="#e6e6e6"/>
<rect x="485.09" y="308.01" width="5.6" height="5.6" fill="#e6e6e6"/>
<rect x="492.12" y="308.01" width="5.6" height="5.6" fill="#e6e6e6"/>
<rect x="499.15" y="308.01" width="5.6" height="5.6" fill="#e6e6e6"/>
<rect x="506.18" y="308.01" width="5.6" height="5.6" fill="#e6e6e6"/>
<rect x="513.21" y="308.01" width="5.6" height="5.6" fill="#e6e6e6"/>
<rect x="520.24" y="308.01" width="5.6" height="5.6" fill="#e6e6e6"/>
<rect x="527.27" y="308.01" width="5.6" height="5.6" fill="#e6e6e6"/>
<rect x="464.00" y="300.98" width="5.6" height="5.6" fill="#e6e6e6"/>
<rect x="471.03" y="300.98" width="5.6" height="5.6" fill="#e6e6e6"/>
<rect x="478.06" y="300.98" width="5.6" height="5.6" fill="#e6e6e6"/>
<rect x="485.09" y="300.98" width="5.6" height="5.6" fill="#e6e6e6"/>
<rect x="492.12" y="300.98" width="5.6" height="5.6" fill="#e6e6e6"/>
<rect x="499.15" y="300.98" width="5.6" height="5.6" fill="#e6e6e6"/>
<rect x="506.18" y="300.98" width="5.6" height="5.6" fill="#e6e6e6"/>
<rect x="513.21" y="300.98" width="5.6" height="5.6" fill="#e6e6e6"/>
<rect x="520.24" y="300.98" width="5.6" height="5.6" fill="#e6e6e6"/>
<rect x="527.27" y="300.98" width="5.6" height="5.6" fill="#e6e6e6"/>
<rect x="464.00" y="293.95" width="5.6" height="5.6" fill="#e6e6e6"/>
<rect x="471.03" y="293.95" width="5.6" height="5.6" fill="#e6e6e6"/>
<rect x="478.06" y="293.95" width="5.6" height="5.6" fill="#e6e6e6"/>
<rect x="485.09" y="293.95" width="5.6" height="5.6" fill="#e6e6e6"/>
<rect x="492.12" y="293.95" width="5.6" height="5.6" fill="#e6e6e6"/>
<rect x="499.15" y="293.95" width="5.6" height="5.6" fill="#e6e6e6"/>
<rect x="506.18" y="293.95" width="5.6" height="5.6" fill="#e6e6e6"/>
<rect x="513.21" y="293.95" width="5.6" height="5.6" fill="#e6e6e6"/>
<rect x="520.24" y="293.95" width="5.6" height="5.6" fill="#e6e6e6"/>
<rect x="527.27" y="293.95" width="5.6" height="5.6" fill="#e6e6e6"/>
<rect x="464.00" y="286.92" width="5.6" height="5.6" fill="#e6e6e6"/>
<rect x="471.03" y="286.92" width="5.6" height="5.6" fill="#e6e6e6"/>
<rect x="478.06" y="286.92" width="5.6" height="5.6" fill="#e6e6e6"/>
<rect x="485.09" y="286.92" width="5.6" height="5.6" fill="#e6e6e6"/>
<rect x="492.12" y="286.92" width="5.6" height="5.6" fill="#e6e6e6"/>
<rect x="499.15" y="286.92" width="5.6" height="5.6" fill="#e6e6e6"/>
<rect x="506.18" y="286.92" width="5.6" height="5.6" fill="#e6e6e6"/>
<rect x="513.21" y="286.92" width="5.6" height="5.6" fill="#e6e6e6"/>
<rect x="520.24" y="286.92" width="5.6" height="5.6" fill="#e6e6e6"/>
<rect x="527.27" y="286.92" width="5.6" height="5.6" fill="#e6e6e6"/>
<rect x="464.00" y="279.89" width="5.6" height="5.6" fill="#e6e6e6"/>
<rect x="471.03" y="279.89" width="5.6" height="5.6" fill="#e6e6e6"/>
<rect x="478.06" y="279.89" width="5.6" height="5.6" fill="#e6e6e6"/>
<rect x="485.09" y="279.89" width="5.6" height="5.6" fill="#e6e6e6"/>
<rect x="492.12" y="279.89" width="5.6" height="5.6" fill="#e6e6e6"/>
<rect x="499.15" y="279.89" width="5.6" height="5.6" fill="#e6e6e6"/>
<rect x="506.18" y="279.89" width="5.6" height="5.6" fill="#e6e6e6"/>
<rect x="513.21" y="279.89" width="5.6" height="5.6" fill="#e6e6e6"/>
<rect x="520.24" y="279.89" width="5.6" height="5.6" fill="#e6e6e6"/>
<rect x="527.27" y="279.89" width="5.6" height="5.6" fill="#e6e6e6"/>
<rect x="464.00" y="272.86" width="5.6" height="5.6" fill="#e6e6e6"/>
<rect x="471.03" y="272.86" width="5.6" height="5.6" fill="#e6e6e6"/>
<rect x="478.06" y="272.86" width="5.6" height="5.6" fill="#e6e6e6"/>
<rect x="485.09" y="272.86" width="5.6" height="5.6" fill="#e6e6e6"/>
<rect x="492.12" y="272.86" width="5.6" height="5.6" fill="#e6e6e6"/>
<rect x="499.15" y="272.86" width="5.6" height="5.6" fill="#e6e6e6"/>
<rect x="506.18" y="272.86" width="5.6" height="5.6" fill="#e6e6e6"/>
<rect x="513.21" y="272.86" width="5.6" height="5.6" fill="#e6e6e6"/>
<rect x="520.24" y="272.86" width="5.6" height="5.6" fill="#e6e6e6"/>
<rect x="527.27" y="272.86" width="5.6" height="5.6" fill="#e6e6e6"/>
<rect x="464.00" y="265.83" width="5.6" height="5.6" fill="#e6e6e6"/>
<rect x="471.03" y="265.83" width="5.6" height="5.6" fill="#e6e6e6"/>
<rect x="478.06" y="265.83" width="5.6" height="5.6" fill="#e6e6e6"/>
<rect x="485.09" y="265.83" width="5.6" height="5.6" fill="#e6e6e6"/>
<rect x="492.12" y="265.83" width="5.6" height="5.6" fill="#e6e6e6"/>
<rect x="499.15" y="265.83" width="5.6" height="5.6" fill="#e6e6e6"/>
<rect x="506.18" y="265.83" width="5.6" height="5.6" fill="#e6e6e6"/>
<rect x="513.21" y="265.83" width="5.6" height="5.6" fill="#e6e6e6"/>
<rect x="520.24" y="265.83" width="5.6" height="5.6" fill="#e6e6e6"/>
<rect x="527.27" y="265.83" width="5.6" height="5.6" fill="#e6e6e6"/>
<rect x="464.00" y="258.80" width="5.6" height="5.6" fill="#e6e6e6"/>
<rect x="471.03" y="258.80" width="5.6" height="5.6" fill="#e6e6e6"/>
<rect x="478.06" y="258.80" width="5.6" height="5.6" fill="#e6e6e6"/>
<rect x="485.09" y="258.80" width="5.6" height="5.6" fill="#e6e6e6"/>
<rect x="492.12" y="258.80" width="5.6" height="5.6" fill="#e6e6e6"/>
<rect x="499.15" y="258.80" width="5.6" height="5.6" fill="#e6e6e6"/>
<rect x="506.18" y="258.80" width="5.6" height="5.6" fill="#e6e6e6"/>
<rect x="513.21" y="258.80" width="5.6" height="5.6" fill="#e6e6e6"/>
<rect x="520.24" y="258.80" width="5.6" height="5.6" fill="#e6e6e6"/>
<rect x="527.27" y="258.80" width="5.6" height="5.6" fill="#e6e6e6"/>
<rect x="550.60" y="322.07" width="5.6" height="5.6" fill="#0c1b8a"/>
<rect x="557.63" y="322.07" width="5.6" height="5.6" fill="#0c1b8a"/>
<rect x="564.66" y="322.07" width="5.6" height="5.6" fill="#0c1b8a"/>
<rect x="571.69" y="322.07" width="5.6" height="5.6" fill="#0c1b8a"/>
<rect x="578.72" y="322.07" width="5.6" height="5.6" fill="#0c1b8a"/>
<rect x="585.75" y="322.07" width="5.6" height="5.6" fill="#0c1b8a"/>
<rect x="592.78" y="322.07" width="5.6" height="5.6" fill="#0c1b8a"/>
<rect x="599.81" y="322.07" width="5.6" height="5.6" fill="#0c1b8a"/>
<rect x="606.84" y="322.07" width="5.6" height="5.6" fill="#0c1b8a"/>
<rect x="613.87" y="322.07" width="5.6" height="5.6" fill="#0c1b8a"/>
<rect x="550.60" y="315.04" width="5.6" height="5.6" fill="#0c1b8a"/>
<rect x="557.63" y="315.04" width="5.6" height="5.6" fill="#0c1b8a"/>
<rect x="564.66" y="315.04" width="5.6" height="5.6" fill="#e6e6e6"/>
<rect x="571.69" y="315.04" width="5.6" height="5.6" fill="#e6e6e6"/>
<rect x="578.72" y="315.04" width="5.6" height="5.6" fill="#e6e6e6"/>
<rect x="585.75" y="315.04" width="5.6" height="5.6" fill="#e6e6e6"/>
<rect x="592.78" y="315.04" width="5.6" height="5.6" fill="#e6e6e6"/>
<rect x="599.81" y="315.04" width="5.6" height="5.6" fill="#e6e6e6"/>
<rect x="606.84" y="315.04" width="5.6" height="5.6" fill="#e6e6e6"/>
<rect x="613.87" y="315.04" width="5.6" height="5.6" fill="#e6e6e6"/>
<rect x="550.60" y="308.01" width="5.6" height="5.6" fill="#e6e6e6"/>
<rect x="557.63" y="308.01" width="5.6" height="5.6" fill="#e6e6e6"/>
<rect x="564.66" y="308.01" width="5.6" height="5.6" fill="#e6e6e6"/>
<rect x="571.69" y="308.01" width="5.6" height="5.6" fill="#e6e6e6"/>
<rect x="578.72" y="308.01" width="5.6" height="5.6" fill="#e6e6e6"/>
<rect x="585.75" y="308.01" width="5.6" height="5.6" fill="#e6e6e6"/>
<rect x="592.78" y="308.01" width="5.6" height="5.6" fill="#e6e6e6"/>
<rect x="599.81" y="308.01" width="5.6" height="5.6" fill="#e6e6e6"/>
<rect x="606.84" y="308.01" width="5.6" height="5.6" fill="#e6e6e6"/>
<rect x="613.87" y="308.01" width="5.6" height="5.6" fill="#e6e6e6"/>
<rect x="550.60" y="300.98" width="5.6" height="5.6" fill="#e6e6e6"/>
<rect x="557.63" y="300.98" width="5.6" height="5.6" fill="#e6e6e6"/>
<rect x="564.66" y="300.98" width="5.6" height="5.6" fill="#e6e6e6"/>
<rect x="571.69" y="300.98" width="5.6" height="5.6" fill="#e6e6e6"/>
<rect x="578.72" y="300.98" width="5.6" height="5.6" fill="#e6e6e6"/>
<rect x="585.75" y="300.98" width="5.6" height="5.6" fill="#e6e6e6"/>
<rect x="592.78" y="300.98" width="5.6" height="5.6" fill="#e6e6e6"/>
<rect x="599.81" y="300.98" width="5.6" height="5.6" fill="#e6e6e6"/>
<rect x="606.84" y="300.98" width="5.6" height="5.6" fill="#e6e6e6"/>
<rect x="613.87" y="300.98" width="5.6" height="5.6" fill="#e6e6e6"/>
<rect x="550.60" y="293.95" width="5.6" height="5.6" fill="#e6e6e6"/>
<rect x="557.63" y="293.95" width="5.6" height="5.6" fill="#e6e6e6"/>
<rect x="564.66" y="293.95" width="5.6" height="5.6" fill="#e6e6e6"/>
<rect x="571.69" y="293.95" width="5.6" height="5.6" fill="#e6e6e6"/>
<rect x="578.72" y="293.95" width="5.6" height="5.6" fill="#e6e6e6"/>
<rect x="585.75" y="293.95" width="5.6" height="5.6" fill="#e6e6e6"/>
<rect x="592.78" y="293.95" width="5.6" height="5.6" fill="#e6e6e6"/>
<rect x="599.81" y="293.95" width="5.6" height="5.6" fill="#e6e6e6"/>
<rect x="606.84" y="293.95" width="5.6" height="5.6" fill="#e6e6e6"/>
<rect x="613.87" y="293.95" width="5.6" height="5.6" fill="#e6e6e6"/>
<rect x="550.60" y="286.92" width="5.6" height="5.6" fill="#e6e6e6"/>
<rect x="557.63" y="286.92" width="5.6" height="5.6" fill="#e6e6e6"/>
<rect x="564.66" y="286.92" width="5.6" height="5.6" fill="#e6e6e6"/>
<rect x="571.69" y="286.92" width="5.6" height="5.6" fill="#e6e6e6"/>
<rect x="578.72" y="286.92" width="5.6" height="5.6" fill="#e6e6e6"/>
<rect x="585.75" y="286.92" width="5.6" height="5.6" fill="#e6e6e6"/>
<rect x="592.78" y="286.92" width="5.6" height="5.6" fill="#e6e6e6"/>
<rect x="599.81" y="286.92" width="5.6" height="5.6" fill="#e6e6e6"/>
<rect x="606.84" y="286.92" width="5.6" height="5.6" fill="#e6e6e6"/>
<rect x="613.87" y="286.92" width="5.6" height="5.6" fill="#e6e6e6"/>
<rect x="550.60" y="279.89" width="5.6" height="5.6" fill="#e6e6e6"/>
<rect x="557.63" y="279.89" width="5.6" height="5.6" fill="#e6e6e6"/>
<rect x="564.66" y="279.89" width="5.6" height="5.6" fill="#e6e6e6"/>
<rect x="571.69" y="279.89" width="5.6" height="5.6" fill="#e6e6e6"/>
<rect x="578.72" y="279.89" width="5.6" height="5.6" fill="#e6e6e6"/>
<rect x="585.75" y="279.89" width="5.6" height="5.6" fill="#e6e6e6"/>
<rect x="592.78" y="279.89" width="5.6" height="5.6" fill="#e6e6e6"/>
<rect x="599.81" y="279.89" width="5.6" height="5.6" fill="#e6e6e6"/>
<rect x="606.84" y="279.89" width="5.6" height="5.6" fill="#e6e6e6"/>
<rect x="613.87" y="279.89" width="5.6" height="5.6" fill="#e6e6e6"/>
<rect x="550.60" y="272.86" width="5.6" height="5.6" fill="#e6e6e6"/>
<rect x="557.63" y="272.86" width="5.6" height="5.6" fill="#e6e6e6"/>
<rect x="564.66" y="272.86" width="5.6" height="5.6" fill="#e6e6e6"/>
<rect x="571.69" y="272.86" width="5.6" height="5.6" fill="#e6e6e6"/>
<rect x="578.72" y="272.86" width="5.6" height="5.6" fill="#e6e6e6"/>
<rect x="585.75" y="272.86" width="5.6" height="5.6" fill="#e6e6e6"/>
<rect x="592.78" y="272.86" width="5.6" height="5.6" fill="#e6e6e6"/>
<rect x="599.81" y="272.86" width="5.6" height="5.6" fill="#e6e6e6"/>
<rect x="606.84" y="272.86" width="5.6" height="5.6" fill="#e6e6e6"/>
<rect x="613.87" y="272.86" width="5.6" height="5.6" fill="#e6e6e6"/>
<rect x="550.60" y="265.83" width="5.6" height="5.6" fill="#e6e6e6"/>
<rect x="557.63" y="265.83" width="5.6" height="5.6" fill="#e6e6e6"/>
<rect x="564.66" y="265.83" width="5.6" height="5.6" fill="#e6e6e6"/>
<rect x="571.69" y="265.83" width="5.6" height="5.6" fill="#e6e6e6"/>
<rect x="578.72" y="265.83" width="5.6" height="5.6" fill="#e6e6e6"/>
<rect x="585.75" y="265.83" width="5.6" height="5.6" fill="#e6e6e6"/>
<rect x="592.78" y="265.83" width="5.6" height="5.6" fill="#e6e6e6"/>
<rect x="599.81" y="265.83" width="5.6" height="5.6" fill="#e6e6e6"/>
<rect x="606.84" y="265.83" width="5.6" height="5.6" fill="#e6e6e6"/>
<rect x="613.87" y="265.83" width="5.6" height="5.6" fill="#e6e6e6"/>
<rect x="550.60" y="258.80" width="5.6" height="5.6" fill="#e6e6e6"/>
<rect x="557.63" y="258.80" width="5.6" height="5.6" fill="#e6e6e6"/>
<rect x="564.66" y="258.80" width="5.6" height="5.6" fill="#e6e6e6"/>
<rect x="571.69" y="258.80" width="5.6" height="5.6" fill="#e6e6e6"/>
<rect x="578.72" y="258.80" width="5.6" height="5.6" fill="#e6e6e6"/>
<rect x="585.75" y="258.80" width="5.6" height="5.6" fill="#e6e6e6"/>
<rect x="592.78" y="258.80" width="5.6" height="5.6" fill="#e6e6e6"/>
<rect x="599.81" y="258.80" width="5.6" height="5.6" fill="#e6e6e6"/>
<rect x="606.84" y="258.80" width="5.6" height="5.6" fill="#e6e6e6"/>
<rect x="613.87" y="258.80" width="5.6" height="5.6" fill="#e6e6e6"/>
<rect x="637.20" y="322.07" width="5.6" height="5.6" fill="#0c1b8a"/>
<rect x="644.23" y="322.07" width="5.6" height="5.6" fill="#0c1b8a"/>
<rect x="651.26" y="322.07" width="5.6" height="5.6" fill="#0c1b8a"/>
<rect x="658.29" y="322.07" width="5.6" height="5.6" fill="#0c1b8a"/>
<rect x="665.32" y="322.07" width="5.6" height="5.6" fill="#0c1b8a"/>
<rect x="672.35" y="322.07" width="5.6" height="5.6" fill="#0c1b8a"/>
<rect x="679.38" y="322.07" width="5.6" height="5.6" fill="#0c1b8a"/>
<rect x="686.41" y="322.07" width="5.6" height="5.6" fill="#0c1b8a"/>
<rect x="693.44" y="322.07" width="5.6" height="5.6" fill="#e6e6e6"/>
<rect x="700.47" y="322.07" width="5.6" height="5.6" fill="#e6e6e6"/>
<rect x="637.20" y="315.04" width="5.6" height="5.6" fill="#e6e6e6"/>
<rect x="644.23" y="315.04" width="5.6" height="5.6" fill="#e6e6e6"/>
<rect x="651.26" y="315.04" width="5.6" height="5.6" fill="#e6e6e6"/>
<rect x="658.29" y="315.04" width="5.6" height="5.6" fill="#e6e6e6"/>
<rect x="665.32" y="315.04" width="5.6" height="5.6" fill="#e6e6e6"/>
<rect x="672.35" y="315.04" width="5.6" height="5.6" fill="#e6e6e6"/>
<rect x="679.38" y="315.04" width="5.6" height="5.6" fill="#e6e6e6"/>
<rect x="686.41" y="315.04" width="5.6" height="5.6" fill="#e6e6e6"/>
<rect x="693.44" y="315.04" width="5.6" height="5.6" fill="#e6e6e6"/>
<rect x="700.47" y="315.04" width="5.6" height="5.6" fill="#e6e6e6"/>
<rect x="637.20" y="308.01" width="5.6" height="5.6" fill="#e6e6e6"/>
<rect x="644.23" y="308.01" width="5.6" height="5.6" fill="#e6e6e6"/>
<rect x="651.26" y="308.01" width="5.6" height="5.6" fill="#e6e6e6"/>
<rect x="658.29" y="308.01" width="5.6" height="5.6" fill="#e6e6e6"/>
<rect x="665.32" y="308.01" width="5.6" height="5.6" fill="#e6e6e6"/>
<rect x="672.35" y="308.01" width="5.6" height="5.6" fill="#e6e6e6"/>
<rect x="679.38" y="308.01" width="5.6" height="5.6" fill="#e6e6e6"/>
<rect x="686.41" y="308.01" width="5.6" height="5.6" fill="#e6e6e6"/>
<rect x="693.44" y="308.01" width="5.6" height="5.6" fill="#e6e6e6"/>
<rect x="700.47" y="308.01" width="5.6" height="5.6" fill="#e6e6e6"/>
<rect x="637.20" y="300.98" width="5.6" height="5.6" fill="#e6e6e6"/>
<rect x="644.23" y="300.98" width="5.6" height="5.6" fill="#e6e6e6"/>
<rect x="651.26" y="300.98" width="5.6" height="5.6" fill="#e6e6e6"/>
<rect x="658.29" y="300.98" width="5.6" height="5.6" fill="#e6e6e6"/>
<rect x="665.32" y="300.98" width="5.6" height="5.6" fill="#e6e6e6"/>
<rect x="672.35" y="300.98" width="5.6" height="5.6" fill="#e6e6e6"/>
<rect x="679.38" y="300.98" width="5.6" height="5.6" fill="#e6e6e6"/>
<rect x="686.41" y="300.98" width="5.6" height="5.6" fill="#e6e6e6"/>
<rect x="693.44" y="300.98" width="5.6" height="5.6" fill="#e6e6e6"/>
<rect x="700.47" y="300.98" width="5.6" height="5.6" fill="#e6e6e6"/>
<rect x="637.20" y="293.95" width="5.6" height="5.6" fill="#e6e6e6"/>
<rect x="644.23" y="293.95" width="5.6" height="5.6" fill="#e6e6e6"/>
<rect x="651.26" y="293.95" width="5.6" height="5.6" fill="#e6e6e6"/>
<rect x="658.29" y="293.95" width="5.6" height="5.6" fill="#e6e6e6"/>
<rect x="665.32" y="293.95" width="5.6" height="5.6" fill="#e6e6e6"/>
<rect x="672.35" y="293.95" width="5.6" height="5.6" fill="#e6e6e6"/>
<rect x="679.38" y="293.95" width="5.6" height="5.6" fill="#e6e6e6"/>
<rect x="686.41" y="293.95" width="5.6" height="5.6" fill="#e6e6e6"/>
<rect x="693.44" y="293.95" width="5.6" height="5.6" fill="#e6e6e6"/>
<rect x="700.47" y="293.95" width="5.6" height="5.6" fill="#e6e6e6"/>
<rect x="637.20" y="286.92" width="5.6" height="5.6" fill="#e6e6e6"/>
<rect x="644.23" y="286.92" width="5.6" height="5.6" fill="#e6e6e6"/>
<rect x="651.26" y="286.92" width="5.6" height="5.6" fill="#e6e6e6"/>
<rect x="658.29" y="286.92" width="5.6" height="5.6" fill="#e6e6e6"/>
<rect x="665.32" y="286.92" width="5.6" height="5.6" fill="#e6e6e6"/>
<rect x="672.35" y="286.92" width="5.6" height="5.6" fill="#e6e6e6"/>
<rect x="679.38" y="286.92" width="5.6" height="5.6" fill="#e6e6e6"/>
<rect x="686.41" y="286.92" width="5.6" height="5.6" fill="#e6e6e6"/>
<rect x="693.44" y="286.92" width="5.6" height="5.6" fill="#e6e6e6"/>
<rect x="700.47" y="286.92" width="5.6" height="5.6" fill="#e6e6e6"/>
<rect x="637.20" y="279.89" width="5.6" height="5.6" fill="#e6e6e6"/>
<rect x="644.23" y="279.89" width="5.6" height="5.6" fill="#e6e6e6"/>
<rect x="651.26" y="279.89" width="5.6" height="5.6" fill="#e6e6e6"/>
<rect x="658.29" y="279.89" width="5.6" height="5.6" fill="#e6e6e6"/>
<rect x="665.32" y="279.89" width="5.6" height="5.6" fill="#e6e6e6"/>
<rect x="672.35" y="279.89" width="5.6" height="5.6" fill="#e6e6e6"/>
<rect x="679.38" y="279.89" width="5.6" height="5.6" fill="#e6e6e6"/>
<rect x="686.41" y="279.89" width="5.6" height="5.6" fill="#e6e6e6"/>
<rect x="693.44" y="279.89" width="5.6" height="5.6" fill="#e6e6e6"/>
<rect x="700.47" y="279.89" width="5.6" height="5.6" fill="#e6e6e6"/>
<rect x="637.20" y="272.86" width="5.6" height="5.6" fill="#e6e6e6"/>
<rect x="644.23" y="272.86" width="5.6" height="5.6" fill="#e6e6e6"/>
<rect x="651.26" y="272.86" width="5.6" height="5.6" fill="#e6e6e6"/>
<rect x="658.29" y="272.86" width="5.6" height="5.6" fill="#e6e6e6"/>
<rect x="665.32" y="272.86" width="5.6" height="5.6" fill="#e6e6e6"/>
<rect x="672.35" y="272.86" width="5.6" height="5.6" fill="#e6e6e6"/>
<rect x="679.38" y="272.86" width="5.6" height="5.6" fill="#e6e6e6"/>
<rect x="686.41" y="272.86" width="5.6" height="5.6" fill="#e6e6e6"/>
<rect x="693.44" y="272.86" width="5.6" height="5.6" fill="#e6e6e6"/>
<rect x="700.47" y="272.86" width="5.6" height="5.6" fill="#e6e6e6"/>
<rect x="637.20" y="265.83" width="5.6" height="5.6" fill="#e6e6e6"/>
<rect x="644.23" y="265.83" width="5.6" height="5.6" fill="#e6e6e6"/>
<rect x="651.26" y="265.83" width="5.6" height="5.6" fill="#e6e6e6"/>
<rect x="658.29" y="265.83" width="5.6" height="5.6" fill="#e6e6e6"/>
<rect x="665.32" y="265.83" width="5.6" height="5.6" fill="#e6e6e6"/>
<rect x="672.35" y="265.83" width="5.6" height="5.6" fill="#e6e6e6"/>
<rect x="679.38" y="265.83" width="5.6" height="5.6" fill="#e6e6e6"/>
<rect x="686.41" y="265.83" width="5.6" height="5.6" fill="#e6e6e6"/>
<rect x="693.44" y="265.83" width="5.6" height="5.6" fill="#e6e6e6"/>
<rect x="700.47" y="265.83" width="5.6" height="5.6" fill="#e6e6e6"/>
<rect x="637.20" y="258.80" width="5.6" height="5.6" fill="#e6e6e6"/>
<rect x="644.23" y="258.80" width="5.6" height="5.6" fill="#e6e6e6"/>
<rect x="651.26" y="258.80" width="5.6" height="5.6" fill="#e6e6e6"/>
<rect x="658.29" y="258.80" width="5.6" height="5.6" fill="#e6e6e6"/>
<rect x="665.32" y="258.80" width="5.6" height="5.6" fill="#e6e6e6"/>
<rect x="672.35" y="258.80" width="5.6" height="5.6" fill="#e6e6e6"/>
<rect x="679.38" y="258.80" width="5.6" height="5.6" fill="#e6e6e6"/>
<rect x="686.41" y="258.80" width="5.6" height="5.6" fill="#e6e6e6"/>
<rect x="693.44" y="258.80" width="5.6" height="5.6" fill="#e6e6e6"/>
<rect x="700.47" y="258.80" width="5.6" height="5.6" fill="#e6e6e6"/>
<rect x="723.80" y="322.07" width="5.6" height="5.6" fill="#0c1b8a"/>
<rect x="730.83" y="322.07" width="5.6" height="5.6" fill="#0c1b8a"/>
<rect x="737.86" y="322.07" width="5.6" height="5.6" fill="#0c1b8a"/>
<rect x="744.89" y="322.07" width="5.6" height="5.6" fill="#0c1b8a"/>
<rect x="751.92" y="322.07" width="5.6" height="5.6" fill="#0c1b8a"/>
<rect x="758.95" y="322.07" width="5.6" height="5.6" fill="#0c1b8a"/>
<rect x="765.98" y="322.07" width="5.6" height="5.6" fill="#0c1b8a"/>
<rect x="773.01" y="322.07" width="5.6" height="5.6" fill="#e6e6e6"/>
<rect x="780.04" y="322.07" width="5.6" height="5.6" fill="#e6e6e6"/>
<rect x="787.07" y="322.07" width="5.6" height="5.6" fill="#e6e6e6"/>
<rect x="723.80" y="315.04" width="5.6" height="5.6" fill="#e6e6e6"/>
<rect x="730.83" y="315.04" width="5.6" height="5.6" fill="#e6e6e6"/>
<rect x="737.86" y="315.04" width="5.6" height="5.6" fill="#e6e6e6"/>
<rect x="744.89" y="315.04" width="5.6" height="5.6" fill="#e6e6e6"/>
<rect x="751.92" y="315.04" width="5.6" height="5.6" fill="#e6e6e6"/>
<rect x="758.95" y="315.04" width="5.6" height="5.6" fill="#e6e6e6"/>
<rect x="765.98" y="315.04" width="5.6" height="5.6" fill="#e6e6e6"/>
<rect x="773.01" y="315.04" width="5.6" height="5.6" fill="#e6e6e6"/>
<rect x="780.04" y="315.04" width="5.6" height="5.6" fill="#e6e6e6"/>
<rect x="787.07" y="315.04" width="5.6" height="5.6" fill="#e6e6e6"/>
<rect x="723.80" y="308.01" width="5.6" height="5.6" fill="#e6e6e6"/>
<rect x="730.83" y="308.01" width="5.6" height="5.6" fill="#e6e6e6"/>
<rect x="737.86" y="308.01" width="5.6" height="5.6" fill="#e6e6e6"/>
<rect x="744.89" y="308.01" width="5.6" height="5.6" fill="#e6e6e6"/>
<rect x="751.92" y="308.01" width="5.6" height="5.6" fill="#e6e6e6"/>
<rect x="758.95" y="308.01" width="5.6" height="5.6" fill="#e6e6e6"/>
<rect x="765.98" y="308.01" width="5.6" height="5.6" fill="#e6e6e6"/>
<rect x="773.01" y="308.01" width="5.6" height="5.6" fill="#e6e6e6"/>
<rect x="780.04" y="308.01" width="5.6" height="5.6" fill="#e6e6e6"/>
<rect x="787.07" y="308.01" width="5.6" height="5.6" fill="#e6e6e6"/>
<rect x="723.80" y="300.98" width="5.6" height="5.6" fill="#e6e6e6"/>
<rect x="730.83" y="300.98" width="5.6" height="5.6" fill="#e6e6e6"/>
<rect x="737.86" y="300.98" width="5.6" height="5.6" fill="#e6e6e6"/>
<rect x="744.89" y="300.98" width="5.6" height="5.6" fill="#e6e6e6"/>
<rect x="751.92" y="300.98" width="5.6" height="5.6" fill="#e6e6e6"/>
<rect x="758.95" y="300.98" width="5.6" height="5.6" fill="#e6e6e6"/>
<rect x="765.98" y="300.98" width="5.6" height="5.6" fill="#e6e6e6"/>
<rect x="773.01" y="300.98" width="5.6" height="5.6" fill="#e6e6e6"/>
<rect x="780.04" y="300.98" width="5.6" height="5.6" fill="#e6e6e6"/>
<rect x="787.07" y="300.98" width="5.6" height="5.6" fill="#e6e6e6"/>
<rect x="723.80" y="293.95" width="5.6" height="5.6" fill="#e6e6e6"/>
<rect x="730.83" y="293.95" width="5.6" height="5.6" fill="#e6e6e6"/>
<rect x="737.86" y="293.95" width="5.6" height="5.6" fill="#e6e6e6"/>
<rect x="744.89" y="293.95" width="5.6" height="5.6" fill="#e6e6e6"/>
<rect x="751.92" y="293.95" width="5.6" height="5.6" fill="#e6e6e6"/>
<rect x="758.95" y="293.95" width="5.6" height="5.6" fill="#e6e6e6"/>
<rect x="765.98" y="293.95" width="5.6" height="5.6" fill="#e6e6e6"/>
<rect x="773.01" y="293.95" width="5.6" height="5.6" fill="#e6e6e6"/>
<rect x="780.04" y="293.95" width="5.6" height="5.6" fill="#e6e6e6"/>
<rect x="787.07" y="293.95" width="5.6" height="5.6" fill="#e6e6e6"/>
<rect x="723.80" y="286.92" width="5.6" height="5.6" fill="#e6e6e6"/>
<rect x="730.83" y="286.92" width="5.6" height="5.6" fill="#e6e6e6"/>
<rect x="737.86" y="286.92" width="5.6" height="5.6" fill="#e6e6e6"/>
<rect x="744.89" y="286.92" width="5.6" height="5.6" fill="#e6e6e6"/>
<rect x="751.92" y="286.92" width="5.6" height="5.6" fill="#e6e6e6"/>
<rect x="758.95" y="286.92" width="5.6" height="5.6" fill="#e6e6e6"/>
<rect x="765.98" y="286.92" width="5.6" height="5.6" fill="#e6e6e6"/>
<rect x="773.01" y="286.92" width="5.6" height="5.6" fill="#e6e6e6"/>
<rect x="780.04" y="286.92" width="5.6" height="5.6" fill="#e6e6e6"/>
<rect x="787.07" y="286.92" width="5.6" height="5.6" fill="#e6e6e6"/>
<rect x="723.80" y="279.89" width="5.6" height="5.6" fill="#e6e6e6"/>
<rect x="730.83" y="279.89" width="5.6" height="5.6" fill="#e6e6e6"/>
<rect x="737.86" y="279.89" width="5.6" height="5.6" fill="#e6e6e6"/>
<rect x="744.89" y="279.89" width="5.6" height="5.6" fill="#e6e6e6"/>
<rect x="751.92" y="279.89" width="5.6" height="5.6" fill="#e6e6e6"/>
<rect x="758.95" y="279.89" width="5.6" height="5.6" fill="#e6e6e6"/>
<rect x="765.98" y="279.89" width="5.6" height="5.6" fill="#e6e6e6"/>
<rect x="773.01" y="279.89" width="5.6" height="5.6" fill="#e6e6e6"/>
<rect x="780.04" y="279.89" width="5.6" height="5.6" fill="#e6e6e6"/>
<rect x="787.07" y="279.89" width="5.6" height="5.6" fill="#e6e6e6"/>
<rect x="723.80" y="272.86" width="5.6" height="5.6" fill="#e6e6e6"/>
<rect x="730.83" y="272.86" width="5.6" height="5.6" fill="#e6e6e6"/>
<rect x="737.86" y="272.86" width="5.6" height="5.6" fill="#e6e6e6"/>
<rect x="744.89" y="272.86" width="5.6" height="5.6" fill="#e6e6e6"/>
<rect x="751.92" y="272.86" width="5.6" height="5.6" fill="#e6e6e6"/>
<rect x="758.95" y="272.86" width="5.6" height="5.6" fill="#e6e6e6"/>
<rect x="765.98" y="272.86" width="5.6" height="5.6" fill="#e6e6e6"/>
<rect x="773.01" y="272.86" width="5.6" height="5.6" fill="#e6e6e6"/>
<rect x="780.04" y="272.86" width="5.6" height="5.6" fill="#e6e6e6"/>
<rect x="787.07" y="272.86" width="5.6" height="5.6" fill="#e6e6e6"/>
<rect x="723.80" y="265.83" width="5.6" height="5.6" fill="#e6e6e6"/>
<rect x="730.83" y="265.83" width="5.6" height="5.6" fill="#e6e6e6"/>
<rect x="737.86" y="265.83" width="5.6" height="5.6" fill="#e6e6e6"/>
<rect x="744.89" y="265.83" width="5.6" height="5.6" fill="#e6e6e6"/>
<rect x="751.92" y="265.83" width="5.6" height="5.6" fill="#e6e6e6"/>
<rect x="758.95" y="265.83" width="5.6" height="5.6" fill="#e6e6e6"/>
<rect x="765.98" y="265.83" width="5.6" height="5.6" fill="#e6e6e6"/>
<rect x="773.01" y="265.83" width="5.6" height="5.6" fill="#e6e6e6"/>
<rect x="780.04" y="265.83" width="5.6" height="5.6" fill="#e6e6e6"/>
<rect x="787.07" y="265.83" width="5.6" height="5.6" fill="#e6e6e6"/>
<rect x="723.80" y="258.80" width="5.6" height="5.6" fill="#e6e6e6"/>
<rect x="730.83" y="258.80" width="5.6" height="5.6" fill="#e6e6e6"/>
<rect x="737.86" y="258.80" width="5.6" height="5.6" fill="#e6e6e6"/>
<rect x="744.89" y="258.80" width="5.6" height="5.6" fill="#e6e6e6"/>
<rect x="751.92" y="258.80" width="5.6" height="5.6" fill="#e6e6e6"/>
<rect x="758.95" y="258.80" width="5.6" height="5.6" fill="#e6e6e6"/>
<rect x="765.98" y="258.80" width="5.6" height="5.6" fill="#e6e6e6"/>
<rect x="773.01" y="258.80" width="5.6" height="5.6" fill="#e6e6e6"/>
<rect x="780.04" y="258.80" width="5.6" height="5.6" fill="#e6e6e6"/>
<rect x="787.07" y="258.80" width="5.6" height="5.6" fill="#e6e6e6"/>
<rect x="810.40" y="322.07" width="5.6" height="5.6" fill="#0c1b8a"/>
<rect x="817.43" y="322.07" width="5.6" height="5.6" fill="#0c1b8a"/>
<rect x="824.46" y="322.07" width="5.6" height="5.6" fill="#0c1b8a"/>
<rect x="831.49" y="322.07" width="5.6" height="5.6" fill="#0c1b8a"/>
<rect x="838.52" y="322.07" width="5.6" height="5.6" fill="#0c1b8a"/>
<rect x="845.55" y="322.07" width="5.6" height="5.6" fill="#0c1b8a"/>
<rect x="852.58" y="322.07" width="5.6" height="5.6" fill="#e6e6e6"/>
<rect x="859.61" y="322.07" width="5.6" height="5.6" fill="#e6e6e6"/>
<rect x="866.64" y="322.07" width="5.6" height="5.6" fill="#e6e6e6"/>
<rect x="873.67" y="322.07" width="5.6" height="5.6" fill="#e6e6e6"/>
<rect x="810.40" y="315.04" width="5.6" height="5.6" fill="#e6e6e6"/>
<rect x="817.43" y="315.04" width="5.6" height="5.6" fill="#e6e6e6"/>
<rect x="824.46" y="315.04" width="5.6" height="5.6" fill="#e6e6e6"/>
<rect x="831.49" y="315.04" width="5.6" height="5.6" fill="#e6e6e6"/>
<rect x="838.52" y="315.04" width="5.6" height="5.6" fill="#e6e6e6"/>
<rect x="845.55" y="315.04" width="5.6" height="5.6" fill="#e6e6e6"/>
<rect x="852.58" y="315.04" width="5.6" height="5.6" fill="#e6e6e6"/>
<rect x="859.61" y="315.04" width="5.6" height="5.6" fill="#e6e6e6"/>
<rect x="866.64" y="315.04" width="5.6" height="5.6" fill="#e6e6e6"/>
<rect x="873.67" y="315.04" width="5.6" height="5.6" fill="#e6e6e6"/>
<rect x="810.40" y="308.01" width="5.6" height="5.6" fill="#e6e6e6"/>
<rect x="817.43" y="308.01" width="5.6" height="5.6" fill="#e6e6e6"/>
<rect x="824.46" y="308.01" width="5.6" height="5.6" fill="#e6e6e6"/>
<rect x="831.49" y="308.01" width="5.6" height="5.6" fill="#e6e6e6"/>
<rect x="838.52" y="308.01" width="5.6" height="5.6" fill="#e6e6e6"/>
<rect x="845.55" y="308.01" width="5.6" height="5.6" fill="#e6e6e6"/>
<rect x="852.58" y="308.01" width="5.6" height="5.6" fill="#e6e6e6"/>
<rect x="859.61" y="308.01" width="5.6" height="5.6" fill="#e6e6e6"/>
<rect x="866.64" y="308.01" width="5.6" height="5.6" fill="#e6e6e6"/>
<rect x="873.67" y="308.01" width="5.6" height="5.6" fill="#e6e6e6"/>
<rect x="810.40" y="300.98" width="5.6" height="5.6" fill="#e6e6e6"/>
<rect x="817.43" y="300.98" width="5.6" height="5.6" fill="#e6e6e6"/>
<rect x="824.46" y="300.98" width="5.6" height="5.6" fill="#e6e6e6"/>
<rect x="831.49" y="300.98" width="5.6" height="5.6" fill="#e6e6e6"/>
<rect x="838.52" y="300.98" width="5.6" height="5.6" fill="#e6e6e6"/>
<rect x="845.55" y="300.98" width="5.6" height="5.6" fill="#e6e6e6"/>
<rect x="852.58" y="300.98" width="5.6" height="5.6" fill="#e6e6e6"/>
<rect x="859.61" y="300.98" width="5.6" height="5.6" fill="#e6e6e6"/>
<rect x="866.64" y="300.98" width="5.6" height="5.6" fill="#e6e6e6"/>
<rect x="873.67" y="300.98" width="5.6" height="5.6" fill="#e6e6e6"/>
<rect x="810.40" y="293.95" width="5.6" height="5.6" fill="#e6e6e6"/>
<rect x="817.43" y="293.95" width="5.6" height="5.6" fill="#e6e6e6"/>
<rect x="824.46" y="293.95" width="5.6" height="5.6" fill="#e6e6e6"/>
<rect x="831.49" y="293.95" width="5.6" height="5.6" fill="#e6e6e6"/>
<rect x="838.52" y="293.95" width="5.6" height="5.6" fill="#e6e6e6"/>
<rect x="845.55" y="293.95" width="5.6" height="5.6" fill="#e6e6e6"/>
<rect x="852.58" y="293.95" width="5.6" height="5.6" fill="#e6e6e6"/>
<rect x="859.61" y="293.95" width="5.6" height="5.6" fill="#e6e6e6"/>
<rect x="866.64" y="293.95" width="5.6" height="5.6" fill="#e6e6e6"/>
<rect x="873.67" y="293.95" width="5.6" height="5.6" fill="#e6e6e6"/>
<rect x="810.40" y="286.92" width="5.6" height="5.6" fill="#e6e6e6"/>
<rect x="817.43" y="286.92" width="5.6" height="5.6" fill="#e6e6e6"/>
<rect x="824.46" y="286.92" width="5.6" height="5.6" fill="#e6e6e6"/>
<rect x="831.49" y="286.92" width="5.6" height="5.6" fill="#e6e6e6"/>
<rect x="838.52" y="286.92" width="5.6" height="5.6" fill="#e6e6e6"/>
<rect x="845.55" y="286.92" width="5.6" height="5.6" fill="#e6e6e6"/>
<rect x="852.58" y="286.92" width="5.6" height="5.6" fill="#e6e6e6"/>
<rect x="859.61" y="286.92" width="5.6" height="5.6" fill="#e6e6e6"/>
<rect x="866.64" y="286.92" width="5.6" height="5.6" fill="#e6e6e6"/>
<rect x="873.67" y="286.92" width="5.6" height="5.6" fill="#e6e6e6"/>
<rect x="810.40" y="279.89" width="5.6" height="5.6" fill="#e6e6e6"/>
<rect x="817.43" y="279.89" width="5.6" height="5.6" fill="#e6e6e6"/>
<rect x="824.46" y="279.89" width="5.6" height="5.6" fill="#e6e6e6"/>
<rect x="831.49" y="279.89" width="5.6" height="5.6" fill="#e6e6e6"/>
<rect x="838.52" y="279.89" width="5.6" height="5.6" fill="#e6e6e6"/>
<rect x="845.55" y="279.89" width="5.6" height="5.6" fill="#e6e6e6"/>
<rect x="852.58" y="279.89" width="5.6" height="5.6" fill="#e6e6e6"/>
<rect x="859.61" y="279.89" width="5.6" height="5.6" fill="#e6e6e6"/>
<rect x="866.64" y="279.89" width="5.6" height="5.6" fill="#e6e6e6"/>
<rect x="873.67" y="279.89" width="5.6" height="5.6" fill="#e6e6e6"/>
<rect x="810.40" y="272.86" width="5.6" height="5.6" fill="#e6e6e6"/>
<rect x="817.43" y="272.86" width="5.6" height="5.6" fill="#e6e6e6"/>
<rect x="824.46" y="272.86" width="5.6" height="5.6" fill="#e6e6e6"/>
<rect x="831.49" y="272.86" width="5.6" height="5.6" fill="#e6e6e6"/>
<rect x="838.52" y="272.86" width="5.6" height="5.6" fill="#e6e6e6"/>
<rect x="845.55" y="272.86" width="5.6" height="5.6" fill="#e6e6e6"/>
<rect x="852.58" y="272.86" width="5.6" height="5.6" fill="#e6e6e6"/>
<rect x="859.61" y="272.86" width="5.6" height="5.6" fill="#e6e6e6"/>
<rect x="866.64" y="272.86" width="5.6" height="5.6" fill="#e6e6e6"/>
<rect x="873.67" y="272.86" width="5.6" height="5.6" fill="#e6e6e6"/>
<rect x="810.40" y="265.83" width="5.6" height="5.6" fill="#e6e6e6"/>
<rect x="817.43" y="265.83" width="5.6" height="5.6" fill="#e6e6e6"/>
<rect x="824.46" y="265.83" width="5.6" height="5.6" fill="#e6e6e6"/>
<rect x="831.49" y="265.83" width="5.6" height="5.6" fill="#e6e6e6"/>
<rect x="838.52" y="265.83" width="5.6" height="5.6" fill="#e6e6e6"/>
<rect x="845.55" y="265.83" width="5.6" height="5.6" fill="#e6e6e6"/>
<rect x="852.58" y="265.83" width="5.6" height="5.6" fill="#e6e6e6"/>
<rect x="859.61" y="265.83" width="5.6" height="5.6" fill="#e6e6e6"/>
<rect x="866.64" y="265.83" width="5.6" height="5.6" fill="#e6e6e6"/>
<rect x="873.67" y="265.83" width="5.6" height="5.6" fill="#e6e6e6"/>
<rect x="810.40" y="258.80" width="5.6" height="5.6" fill="#e6e6e6"/>
<rect x="817.43" y="258.80" width="5.6" height="5.6" fill="#e6e6e6"/>
<rect x="824.46" y="258.80" width="5.6" height="5.6" fill="#e6e6e6"/>
<rect x="831.49" y="258.80" width="5.6" height="5.6" fill="#e6e6e6"/>
<rect x="838.52" y="258.80" width="5.6" height="5.6" fill="#e6e6e6"/>
<rect x="845.55" y="258.80" width="5.6" height="5.6" fill="#e6e6e6"/>
<rect x="852.58" y="258.80" width="5.6" height="5.6" fill="#e6e6e6"/>
<rect x="859.61" y="258.80" width="5.6" height="5.6" fill="#e6e6e6"/>
<rect x="866.64" y="258.80" width="5.6" height="5.6" fill="#e6e6e6"/>
<rect x="873.67" y="258.80" width="5.6" height="5.6" fill="#e6e6e6"/>
<rect x="897.00" y="322.07" width="5.6" height="5.6" fill="#0c1b8a"/>
<rect x="904.03" y="322.07" width="5.6" height="5.6" fill="#0c1b8a"/>
<rect x="911.06" y="322.07" width="5.6" height="5.6" fill="#0c1b8a"/>
<rect x="918.09" y="322.07" width="5.6" height="5.6" fill="#0c1b8a"/>
<rect x="925.12" y="322.07" width="5.6" height="5.6" fill="#e6e6e6"/>
<rect x="932.15" y="322.07" width="5.6" height="5.6" fill="#e6e6e6"/>
<rect x="939.18" y="322.07" width="5.6" height="5.6" fill="#e6e6e6"/>
<rect x="946.21" y="322.07" width="5.6" height="5.6" fill="#e6e6e6"/>
<rect x="953.24" y="322.07" width="5.6" height="5.6" fill="#e6e6e6"/>
<rect x="960.27" y="322.07" width="5.6" height="5.6" fill="#e6e6e6"/>
<rect x="897.00" y="315.04" width="5.6" height="5.6" fill="#e6e6e6"/>
<rect x="904.03" y="315.04" width="5.6" height="5.6" fill="#e6e6e6"/>
<rect x="911.06" y="315.04" width="5.6" height="5.6" fill="#e6e6e6"/>
<rect x="918.09" y="315.04" width="5.6" height="5.6" fill="#e6e6e6"/>
<rect x="925.12" y="315.04" width="5.6" height="5.6" fill="#e6e6e6"/>
<rect x="932.15" y="315.04" width="5.6" height="5.6" fill="#e6e6e6"/>
<rect x="939.18" y="315.04" width="5.6" height="5.6" fill="#e6e6e6"/>
<rect x="946.21" y="315.04" width="5.6" height="5.6" fill="#e6e6e6"/>
<rect x="953.24" y="315.04" width="5.6" height="5.6" fill="#e6e6e6"/>
<rect x="960.27" y="315.04" width="5.6" height="5.6" fill="#e6e6e6"/>
<rect x="897.00" y="308.01" width="5.6" height="5.6" fill="#e6e6e6"/>
<rect x="904.03" y="308.01" width="5.6" height="5.6" fill="#e6e6e6"/>
<rect x="911.06" y="308.01" width="5.6" height="5.6" fill="#e6e6e6"/>
<rect x="918.09" y="308.01" width="5.6" height="5.6" fill="#e6e6e6"/>
<rect x="925.12" y="308.01" width="5.6" height="5.6" fill="#e6e6e6"/>
<rect x="932.15" y="308.01" width="5.6" height="5.6" fill="#e6e6e6"/>
<rect x="939.18" y="308.01" width="5.6" height="5.6" fill="#e6e6e6"/>
<rect x="946.21" y="308.01" width="5.6" height="5.6" fill="#e6e6e6"/>
<rect x="953.24" y="308.01" width="5.6" height="5.6" fill="#e6e6e6"/>
<rect x="960.27" y="308.01" width="5.6" height="5.6" fill="#e6e6e6"/>
<rect x="897.00" y="300.98" width="5.6" height="5.6" fill="#e6e6e6"/>
<rect x="904.03" y="300.98" width="5.6" height="5.6" fill="#e6e6e6"/>
<rect x="911.06" y="300.98" width="5.6" height="5.6" fill="#e6e6e6"/>
<rect x="918.09" y="300.98" width="5.6" height="5.6" fill="#e6e6e6"/>
<rect x="925.12" y="300.98" width="5.6" height="5.6" fill="#e6e6e6"/>
<rect x="932.15" y="300.98" width="5.6" height="5.6" fill="#e6e6e6"/>
<rect x="939.18" y="300.98" width="5.6" height="5.6" fill="#e6e6e6"/>
<rect x="946.21" y="300.98" width="5.6" height="5.6" fill="#e6e6e6"/>
<rect x="953.24" y="300.98" width="5.6" height="5.6" fill="#e6e6e6"/>
<rect x="960.27" y="300.98" width="5.6" height="5.6" fill="#e6e6e6"/>
<rect x="897.00" y="293.95" width="5.6" height="5.6" fill="#e6e6e6"/>
<rect x="904.03" y="293.95" width="5.6" height="5.6" fill="#e6e6e6"/>
<rect x="911.06" y="293.95" width="5.6" height="5.6" fill="#e6e6e6"/>
<rect x="918.09" y="293.95" width="5.6" height="5.6" fill="#e6e6e6"/>
<rect x="925.12" y="293.95" width="5.6" height="5.6" fill="#e6e6e6"/>
<rect x="932.15" y="293.95" width="5.6" height="5.6" fill="#e6e6e6"/>
<rect x="939.18" y="293.95" width="5.6" height="5.6" fill="#e6e6e6"/>
<rect x="946.21" y="293.95" width="5.6" height="5.6" fill="#e6e6e6"/>
<rect x="953.24" y="293.95" width="5.6" height="5.6" fill="#e6e6e6"/>
<rect x="960.27" y="293.95" width="5.6" height="5.6" fill="#e6e6e6"/>
<rect x="897.00" y="286.92" width="5.6" height="5.6" fill="#e6e6e6"/>
<rect x="904.03" y="286.92" width="5.6" height="5.6" fill="#e6e6e6"/>
<rect x="911.06" y="286.92" width="5.6" height="5.6" fill="#e6e6e6"/>
<rect x="918.09" y="286.92" width="5.6" height="5.6" fill="#e6e6e6"/>
<rect x="925.12" y="286.92" width="5.6" height="5.6" fill="#e6e6e6"/>
<rect x="932.15" y="286.92" width="5.6" height="5.6" fill="#e6e6e6"/>
<rect x="939.18" y="286.92" width="5.6" height="5.6" fill="#e6e6e6"/>
<rect x="946.21" y="286.92" width="5.6" height="5.6" fill="#e6e6e6"/>
<rect x="953.24" y="286.92" width="5.6" height="5.6" fill="#e6e6e6"/>
<rect x="960.27" y="286.92" width="5.6" height="5.6" fill="#e6e6e6"/>
<rect x="897.00" y="279.89" width="5.6" height="5.6" fill="#e6e6e6"/>
<rect x="904.03" y="279.89" width="5.6" height="5.6" fill="#e6e6e6"/>
<rect x="911.06" y="279.89" width="5.6" height="5.6" fill="#e6e6e6"/>
<rect x="918.09" y="279.89" width="5.6" height="5.6" fill="#e6e6e6"/>
<rect x="925.12" y="279.89" width="5.6" height="5.6" fill="#e6e6e6"/>
<rect x="932.15" y="279.89" width="5.6" height="5.6" fill="#e6e6e6"/>
<rect x="939.18" y="279.89" width="5.6" height="5.6" fill="#e6e6e6"/>
<rect x="946.21" y="279.89" width="5.6" height="5.6" fill="#e6e6e6"/>
<rect x="953.24" y="279.89" width="5.6" height="5.6" fill="#e6e6e6"/>
<rect x="960.27" y="279.89" width="5.6" height="5.6" fill="#e6e6e6"/>
<rect x="897.00" y="272.86" width="5.6" height="5.6" fill="#e6e6e6"/>
<rect x="904.03" y="272.86" width="5.6" height="5.6" fill="#e6e6e6"/>
<rect x="911.06" y="272.86" width="5.6" height="5.6" fill="#e6e6e6"/>
<rect x="918.09" y="272.86" width="5.6" height="5.6" fill="#e6e6e6"/>
<rect x="925.12" y="272.86" width="5.6" height="5.6" fill="#e6e6e6"/>
<rect x="932.15" y="272.86" width="5.6" height="5.6" fill="#e6e6e6"/>
<rect x="939.18" y="272.86" width="5.6" height="5.6" fill="#e6e6e6"/>
<rect x="946.21" y="272.86" width="5.6" height="5.6" fill="#e6e6e6"/>
<rect x="953.24" y="272.86" width="5.6" height="5.6" fill="#e6e6e6"/>
<rect x="960.27" y="272.86" width="5.6" height="5.6" fill="#e6e6e6"/>
<rect x="897.00" y="265.83" width="5.6" height="5.6" fill="#e6e6e6"/>
<rect x="904.03" y="265.83" width="5.6" height="5.6" fill="#e6e6e6"/>
<rect x="911.06" y="265.83" width="5.6" height="5.6" fill="#e6e6e6"/>
<rect x="918.09" y="265.83" width="5.6" height="5.6" fill="#e6e6e6"/>
<rect x="925.12" y="265.83" width="5.6" height="5.6" fill="#e6e6e6"/>
<rect x="932.15" y="265.83" width="5.6" height="5.6" fill="#e6e6e6"/>
<rect x="939.18" y="265.83" width="5.6" height="5.6" fill="#e6e6e6"/>
<rect x="946.21" y="265.83" width="5.6" height="5.6" fill="#e6e6e6"/>
<rect x="953.24" y="265.83" width="5.6" height="5.6" fill="#e6e6e6"/>
<rect x="960.27" y="265.83" width="5.6" height="5.6" fill="#e6e6e6"/>
<rect x="897.00" y="258.80" width="5.6" height="5.6" fill="#e6e6e6"/>
<rect x="904.03" y="258.80" width="5.6" height="5.6" fill="#e6e6e6"/>
<rect x="911.06" y="258.80" width="5.6" height="5.6" fill="#e6e6e6"/>
<rect x="918.09" y="258.80" width="5.6" height="5.6" fill="#e6e6e6"/>
<rect x="925.12" y="258.80" width="5.6" height="5.6" fill="#e6e6e6"/>
<rect x="932.15" y="258.80" width="5.6" height="5.6" fill="#e6e6e6"/>
<rect x="939.18" y="258.80" width="5.6" height="5.6" fill="#e6e6e6"/>
<rect x="946.21" y="258.80" width="5.6" height="5.6" fill="#e6e6e6"/>
<rect x="953.24" y="258.80" width="5.6" height="5.6" fill="#e6e6e6"/>
<rect x="960.27" y="258.80" width="5.6" height="5.6" fill="#e6e6e6"/>
<line x1="151.5" y1="334.4" x2="151.5" y2="380" stroke="#bdbdbd" stroke-width="1"/>
<line x1="325.5" y1="334.4" x2="325.5" y2="380" stroke="#bdbdbd" stroke-width="1"/>
<line x1="497.5" y1="334.4" x2="497.5" y2="380" stroke="#bdbdbd" stroke-width="1"/>
<line x1="670.5" y1="334.4" x2="670.5" y2="380" stroke="#bdbdbd" stroke-width="1"/>
<line x1="844.5" y1="334.4" x2="844.5" y2="380" stroke="#bdbdbd" stroke-width="1"/>
<rect x="33.2" y="539" width="283.5" height="25.2" fill="#e6e6e6"/>
<rect x="76.68" y="539" width="1.6" height="25.2" fill="#fff"/>
<rect x="33.2" y="539" width="43.48" height="25.2" fill="#00a3f2"/>
<rect x="33.2" y="622" width="283.5" height="25.2" fill="#e6e6e6"/>
<rect x="73.90" y="622" width="1.6" height="25.2" fill="#fff"/>
<rect x="33.2" y="622" width="40.70" height="25.2" fill="#00a3f2"/>
<rect x="33.2" y="705" width="283.5" height="25.2" fill="#e6e6e6"/>
<rect x="54.44" y="705" width="1.6" height="25.2" fill="#fff"/>
<rect x="33.2" y="705" width="21.24" height="25.2" fill="#00a3f2"/>
<rect x="360.4" y="539" width="283.5" height="25.2" fill="#e6e6e6"/>
<rect x="387.20" y="539" width="1.6" height="25.2" fill="#fff"/>
<rect x="360.4" y="539" width="26.80" height="25.2" fill="#00a3f2"/>
<rect x="360.4" y="622" width="283.5" height="25.2" fill="#e6e6e6"/>
<rect x="376.08" y="622" width="1.6" height="25.2" fill="#fff"/>
<rect x="360.4" y="622" width="15.68" height="25.2" fill="#00a3f2"/>
<rect x="360.4" y="705" width="283.5" height="25.2" fill="#e6e6e6"/>
<rect x="376.08" y="705" width="1.6" height="25.2" fill="#fff"/>
<rect x="360.4" y="705" width="15.68" height="25.2" fill="#00a3f2"/>
<rect x="687.5" y="539" width="283.5" height="25.2" fill="#e6e6e6"/>
<rect x="705.96" y="539" width="1.6" height="25.2" fill="#fff"/>
<rect x="687.5" y="539" width="18.46" height="25.2" fill="#00a3f2"/>
<rect x="687.5" y="622" width="283.5" height="25.2" fill="#e6e6e6"/>
<rect x="705.96" y="622" width="1.6" height="25.2" fill="#fff"/>
<rect x="687.5" y="622" width="18.46" height="25.2" fill="#00a3f2"/>
<rect x="687.5" y="705" width="283.5" height="25.2" fill="#e6e6e6"/>
<rect x="703.18" y="705" width="1.6" height="25.2" fill="#fff"/>
<rect x="687.5" y="705" width="15.68" height="25.2" fill="#00a3f2"/>
</svg>
<div id='t0' style="position:absolute;white-space:nowrap;font-family:'Liberation Sans', sans-serif;font-size:15px;color:#555;line-height:18.75px;font-weight:400;transform:scaleX(1.0461);transform-origin:left 50%;top:10.40px;left:23.30px;">Exhibit 3</div>
<div id='t1' style="position:absolute;white-space:nowrap;font-family:'Liberation Sans', sans-serif;font-size:25px;color:#111;line-height:31.25px;font-weight:400;-webkit-text-stroke:0.80px #111;transform:scaleX(1.1451);transform-origin:left 50%;top:84.30px;left:25.20px;">Respondents most often report generative AI adoption in their marketing-</div>
<div id='t2' style="position:absolute;white-space:nowrap;font-family:'Liberation Sans', sans-serif;font-size:25px;color:#111;line-height:31.25px;font-weight:400;-webkit-text-stroke:0.80px #111;transform:scaleX(1.1309);transform-origin:left 50%;top:117.00px;left:26.30px;">and-sales, product- and service-development, and IT functions.</div>
<div id='t3' style="position:absolute;white-space:nowrap;font-family:'Liberation Sans', sans-serif;font-size:18px;color:#111;line-height:22.5px;font-weight:400;-webkit-text-stroke:0.58px #111;transform:scaleX(1.1679);transform-origin:left 50%;top:184.40px;left:26.50px;">Respondents’ organizations regularly using generative AI (gen AI), by function,</div>
<div id='t4' style="position:absolute;white-space:nowrap;font-family:'Liberation Sans', sans-serif;font-size:18px;color:#555;line-height:22.5px;font-weight:400;transform:scaleX(1.1238);transform-origin:left 50%;top:184.40px;left:760.00px;">% of respondents</div>
<div id='t5' style="position:absolute;white-space:nowrap;font-family:'Liberation Sans', sans-serif;font-size:16px;color:#505050;line-height:20.0px;font-weight:400;transform:scaleX(0.9800);transform-origin:center 50%;top:233.00px;left:55.34px;">34</div>
<div id='t6' style="position:absolute;white-space:nowrap;font-family:'Liberation Sans', sans-serif;font-size:16px;color:#505050;line-height:20.0px;font-weight:400;transform:scaleX(0.9800);transform-origin:center 50%;top:233.00px;left:141.94px;">23</div>
<div id='t7' style="position:absolute;white-space:nowrap;font-family:'Liberation Sans', sans-serif;font-size:16px;color:#505050;line-height:20.0px;font-weight:400;transform:scaleX(0.9800);transform-origin:center 50%;top:233.00px;left:228.54px;">17</div>
<div id='t8' style="position:absolute;white-space:nowrap;font-family:'Liberation Sans', sans-serif;font-size:16px;color:#505050;line-height:20.0px;font-weight:400;transform:scaleX(0.9800);transform-origin:center 50%;top:233.00px;left:315.14px;">16</div>
<div id='t9' style="position:absolute;white-space:nowrap;font-family:'Liberation Sans', sans-serif;font-size:16px;color:#505050;line-height:20.0px;font-weight:400;transform:scaleX(0.9800);transform-origin:center 50%;top:233.00px;left:401.74px;">16</div>
<div id='t10' style="position:absolute;white-space:nowrap;font-family:'Liberation Sans', sans-serif;font-size:16px;color:#505050;line-height:20.0px;font-weight:400;transform:scaleX(0.9800);transform-origin:center 50%;top:233.00px;left:488.34px;">13</div>
<div id='t11' style="position:absolute;white-space:nowrap;font-family:'Liberation Sans', sans-serif;font-size:16px;color:#505050;line-height:20.0px;font-weight:400;transform:scaleX(0.9800);transform-origin:center 50%;top:233.00px;left:574.94px;">12</div>
<div id='t12' style="position:absolute;white-space:nowrap;font-family:'Liberation Sans', sans-serif;font-size:16px;color:#505050;line-height:20.0px;font-weight:400;transform:scaleX(0.9800);transform-origin:center 50%;top:233.00px;left:665.98px;">8</div>
<div id='t13' style="position:absolute;white-space:nowrap;font-family:'Liberation Sans', sans-serif;font-size:16px;color:#505050;line-height:20.0px;font-weight:400;transform:scaleX(0.9800);transform-origin:center 50%;top:233.00px;left:752.58px;">7</div>
<div id='t14' style="position:absolute;white-space:nowrap;font-family:'Liberation Sans', sans-serif;font-size:16px;color:#505050;line-height:20.0px;font-weight:400;transform:scaleX(0.9800);transform-origin:center 50%;top:233.00px;left:839.18px;">6</div>
<div id='t15' style="position:absolute;white-space:nowrap;font-family:'Liberation Sans', sans-serif;font-size:16px;color:#505050;line-height:20.0px;font-weight:400;transform:scaleX(0.9800);transform-origin:center 50%;top:233.00px;left:925.78px;">4</div>
<div id='t16' style="position:absolute;white-space:nowrap;font-family:'Liberation Sans', sans-serif;font-size:16px;color:#505050;line-height:20.0px;font-weight:400;transform:scaleX(1.0350);transform-origin:center 50%;top:337.30px;left:30.31px;">Marketing</div>
<div id='t17' style="position:absolute;white-space:nowrap;font-family:'Liberation Sans', sans-serif;font-size:16px;color:#505050;line-height:20.0px;font-weight:400;transform:scaleX(1.0350);transform-origin:center 50%;top:354.80px;left:31.19px;">and sales</div>
<div id='t18' style="position:absolute;white-space:nowrap;font-family:'Liberation Sans', sans-serif;font-size:16px;color:#505050;line-height:20.0px;font-weight:400;transform:scaleX(1.0350);transform-origin:center 50%;top:385.00px;left:99.56px;">Product and/or</div>
<div id='t19' style="position:absolute;white-space:nowrap;font-family:'Liberation Sans', sans-serif;font-size:16px;color:#505050;line-height:20.0px;font-weight:400;transform:scaleX(1.0350);transform-origin:center 50%;top:402.50px;left:78.66px;">service development</div>
<div id='t20' style="position:absolute;white-space:nowrap;font-family:'Liberation Sans', sans-serif;font-size:16px;color:#505050;line-height:20.0px;font-weight:400;transform:scaleX(1.0350);transform-origin:center 50%;top:337.30px;left:231.53px;">IT</div>
<div id='t21' style="position:absolute;white-space:nowrap;font-family:'Liberation Sans', sans-serif;font-size:16px;color:#505050;line-height:20.0px;font-weight:400;transform:scaleX(1.0350);transform-origin:center 50%;top:385.00px;left:269.20px;">Other corporate</div>
<div id='t22' style="position:absolute;white-space:nowrap;font-family:'Liberation Sans', sans-serif;font-size:16px;color:#505050;line-height:20.0px;font-weight:400;transform:scaleX(1.0350);transform-origin:center 50%;top:402.50px;left:293.21px;">functions</div>
<div id='t23' style="position:absolute;white-space:nowrap;font-family:'Liberation Sans', sans-serif;font-size:16px;color:#505050;line-height:20.0px;font-weight:400;transform:scaleX(1.0350);transform-origin:center 50%;top:337.30px;left:385.16px;">Service</div>
<div id='t24' style="position:absolute;white-space:nowrap;font-family:'Liberation Sans', sans-serif;font-size:16px;color:#505050;line-height:20.0px;font-weight:400;transform:scaleX(1.0350);transform-origin:center 50%;top:354.80px;left:374.48px;">operations</div>
<div id='t25' style="position:absolute;white-space:nowrap;font-family:'Liberation Sans', sans-serif;font-size:16px;color:#505050;line-height:20.0px;font-weight:400;transform:scaleX(1.0350);transform-origin:center 50%;top:385.00px;left:466.86px;">Software</div>
<div id='t26' style="position:absolute;white-space:nowrap;font-family:'Liberation Sans', sans-serif;font-size:16px;color:#505050;line-height:20.0px;font-weight:400;transform:scaleX(1.0350);transform-origin:center 50%;top:402.50px;left:456.62px;">engineering</div>
<div id='t27' style="position:absolute;white-space:nowrap;font-family:'Liberation Sans', sans-serif;font-size:16px;color:#505050;line-height:20.0px;font-weight:400;transform:scaleX(1.0350);transform-origin:center 50%;top:337.30px;left:559.25px;">Human</div>
<div id='t28' style="position:absolute;white-space:nowrap;font-family:'Liberation Sans', sans-serif;font-size:16px;color:#505050;line-height:20.0px;font-weight:400;transform:scaleX(1.0350);transform-origin:center 50%;top:354.80px;left:549.91px;">resources</div>
<div id='t29' style="position:absolute;white-space:nowrap;font-family:'Liberation Sans', sans-serif;font-size:16px;color:#505050;line-height:20.0px;font-weight:400;transform:scaleX(1.0350);transform-origin:center 50%;top:385.00px;left:656.08px;">Risk</div>
<div id='t30' style="position:absolute;white-space:nowrap;font-family:'Liberation Sans', sans-serif;font-size:16px;color:#505050;line-height:20.0px;font-weight:400;transform:scaleX(1.0350);transform-origin:center 50%;top:337.30px;left:712.87px;">Strategy and</div>
<div id='t31' style="position:absolute;white-space:nowrap;font-family:'Liberation Sans', sans-serif;font-size:16px;color:#505050;line-height:20.0px;font-weight:400;transform:scaleX(1.0350);transform-origin:center 50%;top:354.80px;left:696.41px;">corporate finance</div>
<div id='t32' style="position:absolute;white-space:nowrap;font-family:'Liberation Sans', sans-serif;font-size:16px;color:#505050;line-height:20.0px;font-weight:400;transform:scaleX(1.0350);transform-origin:center 50%;top:385.00px;left:796.80px;">Supply chain/</div>
<div id='t33' style="position:absolute;white-space:nowrap;font-family:'Liberation Sans', sans-serif;font-size:16px;color:#505050;line-height:20.0px;font-weight:400;transform:scaleX(1.0350);transform-origin:center 50%;top:402.50px;left:763.45px;">inventory management</div>
<div id='t34' style="position:absolute;white-space:nowrap;font-family:'Liberation Sans', sans-serif;font-size:16px;color:#505050;line-height:20.0px;font-weight:400;transform:scaleX(1.0350);transform-origin:center 50%;top:337.30px;left:876.30px;">Manufacturing</div>
<div id='t35' style="position:absolute;white-space:nowrap;font-family:'Liberation Sans', sans-serif;font-size:18px;color:#111;line-height:22.5px;font-weight:400;-webkit-text-stroke:0.58px #111;transform:scaleX(1.1749);transform-origin:left 50%;top:459.10px;left:26.50px;">Most commonly reported gen AI use cases within function,</div>
<div id='t36' style="position:absolute;white-space:nowrap;font-family:'Liberation Sans', sans-serif;font-size:18px;color:#555;line-height:22.5px;font-weight:400;transform:scaleX(1.1310);transform-origin:left 50%;top:459.10px;left:578.00px;">% of respondents</div>
<div id='t37' style="position:absolute;white-space:nowrap;font-family:'Liberation Sans', sans-serif;font-size:16px;color:#111;line-height:20.0px;font-weight:400;-webkit-text-stroke:0.51px #111;transform:scaleX(1.0831);transform-origin:left 50%;top:504.50px;left:31.10px;">Marketing and sales</div>
<div id='t38' style="position:absolute;white-space:nowrap;font-family:'Liberation Sans', sans-serif;font-size:16px;color:#505050;line-height:20.0px;font-weight:400;transform:scaleX(0.9800);transform-origin:left 50%;top:544.30px;left:83.18px;">16</div>
<div id='t39' style="position:absolute;white-space:nowrap;font-family:'Liberation Sans', sans-serif;font-size:16px;color:#505050;line-height:20.0px;font-weight:400;transform:scaleX(1.0485);transform-origin:left 50%;top:578.10px;left:30.40px;">Content support for marketing strategy</div>
<div id='t40' style="position:absolute;white-space:nowrap;font-family:'Liberation Sans', sans-serif;font-size:16px;color:#505050;line-height:20.0px;font-weight:400;transform:scaleX(0.9800);transform-origin:left 50%;top:627.30px;left:80.40px;">15</div>
<div id='t41' style="position:absolute;white-space:nowrap;font-family:'Liberation Sans', sans-serif;font-size:16px;color:#505050;line-height:20.0px;font-weight:400;transform:scaleX(1.0286);transform-origin:left 50%;top:660.80px;left:30.40px;">Personalized marketing</div>
<div id='t42' style="position:absolute;white-space:nowrap;font-family:'Liberation Sans', sans-serif;font-size:16px;color:#505050;line-height:20.0px;font-weight:400;transform:scaleX(0.9800);transform-origin:left 50%;top:710.30px;left:60.94px;">8</div>
<div id='t43' style="position:absolute;white-space:nowrap;font-family:'Liberation Sans', sans-serif;font-size:16px;color:#505050;line-height:20.0px;font-weight:400;transform:scaleX(1.0432);transform-origin:left 50%;top:743.50px;left:30.40px;">Sales lead identification and prioritization</div>
<div id='t44' style="position:absolute;white-space:nowrap;font-family:'Liberation Sans', sans-serif;font-size:16px;color:#111;line-height:20.0px;font-weight:400;-webkit-text-stroke:0.51px #111;transform:scaleX(1.1099);transform-origin:left 50%;top:504.50px;left:360.50px;">Product and/or service development</div>
<div id='t45' style="position:absolute;white-space:nowrap;font-family:'Liberation Sans', sans-serif;font-size:16px;color:#505050;line-height:20.0px;font-weight:400;transform:scaleX(0.9800);transform-origin:left 50%;top:544.30px;left:393.70px;">10</div>
<div id='t46' style="position:absolute;white-space:nowrap;font-family:'Liberation Sans', sans-serif;font-size:16px;color:#505050;line-height:20.0px;font-weight:400;transform:scaleX(1.0432);transform-origin:left 50%;top:578.10px;left:360.30px;">Design development</div>
<div id='t47' style="position:absolute;white-space:nowrap;font-family:'Liberation Sans', sans-serif;font-size:16px;color:#505050;line-height:20.0px;font-weight:400;transform:scaleX(0.9800);transform-origin:left 50%;top:627.30px;left:382.58px;">6</div>
<div id='t48' style="position:absolute;white-space:nowrap;font-family:'Liberation Sans', sans-serif;font-size:16px;color:#505050;line-height:20.0px;font-weight:400;transform:scaleX(1.0410);transform-origin:left 50%;top:660.80px;left:360.30px;">Scientific literature and research review</div>
<div id='t49' style="position:absolute;white-space:nowrap;font-family:'Liberation Sans', sans-serif;font-size:16px;color:#505050;line-height:20.0px;font-weight:400;transform:scaleX(0.9800);transform-origin:left 50%;top:710.30px;left:382.58px;">6</div>
<div id='t50' style="position:absolute;white-space:nowrap;font-family:'Liberation Sans', sans-serif;font-size:16px;color:#505050;line-height:20.0px;font-weight:400;transform:scaleX(1.0588);transform-origin:left 50%;top:743.50px;left:360.30px;">Accelerated early simulation/testing</div>
<div id='t51' style="position:absolute;white-space:nowrap;font-family:'Liberation Sans', sans-serif;font-size:16px;color:#111;line-height:20.0px;font-weight:400;-webkit-text-stroke:0.51px #111;transform:scaleX(1.0400);transform-origin:left 50%;top:504.50px;left:691.00px;">IT</div>
<div id='t52' style="position:absolute;white-space:nowrap;font-family:'Liberation Sans', sans-serif;font-size:16px;color:#505050;line-height:20.0px;font-weight:400;transform:scaleX(0.9800);transform-origin:left 50%;top:544.30px;left:712.46px;">7</div>
<div id='t53' style="position:absolute;white-space:nowrap;font-family:'Liberation Sans', sans-serif;font-size:16px;color:#505050;line-height:20.0px;font-weight:400;transform:scaleX(1.0381);transform-origin:left 50%;top:578.10px;left:691.20px;">IT help desk chatbot</div>
<div id='t54' style="position:absolute;white-space:nowrap;font-family:'Liberation Sans', sans-serif;font-size:16px;color:#505050;line-height:20.0px;font-weight:400;transform:scaleX(0.9800);transform-origin:left 50%;top:627.30px;left:712.46px;">7</div>
<div id='t55' style="position:absolute;white-space:nowrap;font-family:'Liberation Sans', sans-serif;font-size:16px;color:#505050;line-height:20.0px;font-weight:400;transform:scaleX(1.0284);transform-origin:left 50%;top:660.80px;left:691.20px;">Data management</div>
<div id='t56' style="position:absolute;white-space:nowrap;font-family:'Liberation Sans', sans-serif;font-size:16px;color:#505050;line-height:20.0px;font-weight:400;transform:scaleX(0.9800);transform-origin:left 50%;top:710.30px;left:709.68px;">6</div>
<div id='t57' style="position:absolute;white-space:nowrap;font-family:'Liberation Sans', sans-serif;font-size:16px;color:#505050;line-height:20.0px;font-weight:400;transform:scaleX(1.0144);transform-origin:left 50%;top:743.50px;left:691.20px;">IT help desk AI assistant<span class="sup">1</span></div>
<div id='t58' style="position:absolute;white-space:nowrap;font-family:'Liberation Sans', sans-serif;font-size:13px;color:#939393;line-height:16.25px;font-weight:400;transform:scaleX(1.0250);transform-origin:left 50%;top:796.00px;left:26.00px;"><span class="sup" style="font-size:8px;top:-5px">1</span>Eg, providing real-time assistance and script suggestions to help desk employees during human-to-human conversations.</div>
<div id='t59' style="position:absolute;white-space:nowrap;font-family:'Liberation Sans', sans-serif;font-size:13px;color:#939393;line-height:16.25px;font-weight:400;transform:scaleX(1.0159);transform-origin:left 50%;top:811.20px;left:29.00px;">Source: McKinsey Global Survey on AI, 1,363 participants at all levels of the organization, Feb 22–Mar 5, 2024</div>
<div id='t60' style="position:absolute;white-space:nowrap;font-family:'Liberation Sans', sans-serif;font-size:13px;color:#222;line-height:16.25px;font-weight:400;transform:scaleX(1.0285);transform-origin:left 50%;top:863.00px;left:27.00px;">McKinsey &amp; Company</div>
</body></html>
